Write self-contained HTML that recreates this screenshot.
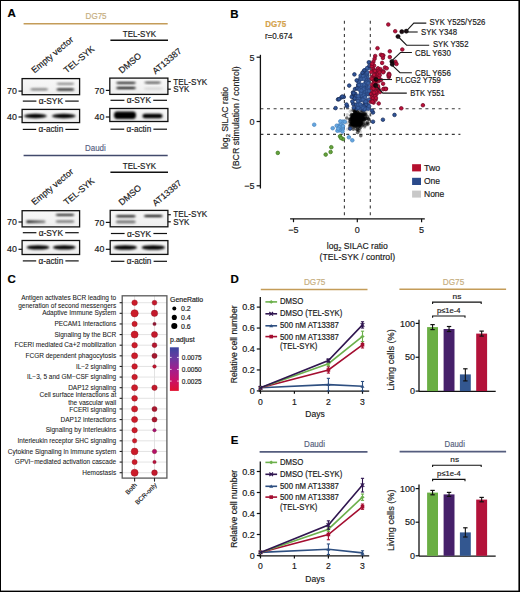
<!DOCTYPE html>
<html><head><meta charset="utf-8"><style>
html,body{margin:0;padding:0;background:#fff;overflow:hidden;}
svg{display:block;font-family:"Liberation Sans", sans-serif;}
text:not([stroke]){stroke:#1a1a1a;stroke-width:0.18px;}
</style></head><body>
<svg width="520" height="592" viewBox="0 0 520 592" font-family='"Liberation Sans", sans-serif'>
<defs>
<filter id="bl" x="-30%" y="-100%" width="160%" height="300%"><feGaussianBlur stdDeviation="0.9 0.8"/></filter>
<filter id="blob" x="-50%" y="-50%" width="200%" height="200%"><feGaussianBlur stdDeviation="1.2"/></filter>
<linearGradient id="blotbg" x1="0" y1="0" x2="0" y2="1"><stop offset="0" stop-color="#f8f8f8"/><stop offset="1" stop-color="#eeeeee"/></linearGradient>
<linearGradient id="pcol" x1="0" y1="0" x2="0" y2="1">
<stop offset="0" stop-color="#3b45a0"/><stop offset="0.25" stop-color="#6a3aa0"/><stop offset="0.5" stop-color="#a0208e"/><stop offset="0.75" stop-color="#c8126a"/><stop offset="1" stop-color="#e0102e"/></linearGradient>
</defs>
<rect x="0" y="0" width="520" height="592" fill="#000"/>
<rect x="1" y="1" width="517.4" height="589.6" fill="#fff"/>
<text x="7.6" y="17.3" font-size="11.5" fill="#000" stroke="#000" stroke-width="0.18" font-weight="bold">A</text>
<text x="230.3" y="17.8" font-size="11.5" fill="#000" stroke="#000" stroke-width="0.18" font-weight="bold">B</text>
<text x="7.6" y="283" font-size="11.5" fill="#000" stroke="#000" stroke-width="0.18" font-weight="bold">C</text>
<text x="230.6" y="282.7" font-size="11.5" fill="#000" stroke="#000" stroke-width="0.18" font-weight="bold">D</text>
<text x="230.8" y="444.4" font-size="11.5" fill="#000" stroke="#000" stroke-width="0.18" font-weight="bold">E</text>
<text x="85.6" y="19.1" font-size="8.8" fill="#c6ae80" stroke="#c6ae80" stroke-width="0.18" textLength="21" lengthAdjust="spacingAndGlyphs">DG75</text>
<line x1="23.6" y1="23.7" x2="167.7" y2="23.7" stroke="#c49c58" stroke-width="1.5"/>
<text x="122.8" y="36.6" font-size="8.8" fill="#1a1a1a" stroke="#1a1a1a" stroke-width="0.18" textLength="33.3" lengthAdjust="spacingAndGlyphs">TEL-SYK</text>
<line x1="110.4" y1="40.2" x2="168" y2="40.2" stroke="#111" stroke-width="1.4"/>
<text transform="translate(34.6,73.6) rotate(-40)" font-size="8.8" fill="#1a1a1a">Empty vector</text>
<text transform="translate(66.8,73.6) rotate(-40)" font-size="8.8" fill="#1a1a1a">TEL-SYK</text>
<text transform="translate(121.8,73.8) rotate(-40)" font-size="8.8" fill="#1a1a1a">DMSO</text>
<text transform="translate(155.4,74.6) rotate(-40)" font-size="8.8" fill="#1a1a1a">AT13387</text>
<rect x="22.1" y="78.6" width="57.5" height="16.1" fill="url(#blotbg)" stroke="#111" stroke-width="1.3"/>
<rect x="30.200000000000003" y="88.39999999999999" width="18" height="1.7999999999999998" rx="3" ry="0.8999999999999999" fill="#000" fill-opacity="0.62" filter="url(#bl)"/>
<rect x="56.400000000000006" y="88.4" width="18" height="2.0" rx="3" ry="1.0" fill="#000" fill-opacity="1.0" filter="url(#bl)"/>
<rect x="56.400000000000006" y="83.1" width="18" height="1.4" rx="3" ry="0.7" fill="#000" fill-opacity="0.62" filter="url(#bl)"/>
<text x="16.900000000000002" y="94.19999999999999" font-size="8.8" fill="#1a1a1a" stroke="#1a1a1a" stroke-width="0.18" text-anchor="end">70</text>
<line x1="18.5" y1="91.1" x2="22.1" y2="91.1" stroke="#111" stroke-width="1.2"/>
<text x="50.849999999999994" y="104.1" font-size="8.8" fill="#1a1a1a" stroke="#1a1a1a" stroke-width="0.18" text-anchor="middle" textLength="24.3" lengthAdjust="spacingAndGlyphs">α-SYK</text>
<line x1="22.8" y1="101.1" x2="36.4" y2="101.1" stroke="#111" stroke-width="1.2"/>
<line x1="65.19999999999999" y1="101.1" x2="78.69999999999999" y2="101.1" stroke="#111" stroke-width="1.2"/>
<rect x="22.1" y="109.4" width="57.5" height="13.2" fill="url(#blotbg)" stroke="#111" stroke-width="1.3"/>
<ellipse cx="35.4" cy="116.0" rx="11.5" ry="2.2" fill="#000" fill-opacity="1.0" filter="url(#bl)"/>
<ellipse cx="63.8" cy="116.0" rx="12.0" ry="2.2" fill="#000" fill-opacity="1.0" filter="url(#bl)"/>
<text x="16.900000000000002" y="120.1" font-size="8.8" fill="#1a1a1a" stroke="#1a1a1a" stroke-width="0.18" text-anchor="end">40</text>
<line x1="18.5" y1="117" x2="22.1" y2="117" stroke="#111" stroke-width="1.2"/>
<text x="50.849999999999994" y="132.4" font-size="8.8" fill="#1a1a1a" stroke="#1a1a1a" stroke-width="0.18" text-anchor="middle" textLength="24.7" lengthAdjust="spacingAndGlyphs">α-actin</text>
<line x1="22.8" y1="129.4" x2="36.199999999999996" y2="129.4" stroke="#111" stroke-width="1.2"/>
<line x1="65.39999999999999" y1="129.4" x2="78.69999999999999" y2="129.4" stroke="#111" stroke-width="1.2"/>
<rect x="109.8" y="78.1" width="58.1" height="16.3" fill="url(#blotbg)" stroke="#111" stroke-width="1.3"/>
<rect x="116.0" y="81.89999999999999" width="20" height="1.7999999999999998" rx="3" ry="0.8999999999999999" fill="#000" fill-opacity="1.0" filter="url(#bl)"/>
<rect x="116.0" y="87.1" width="20" height="1.7999999999999998" rx="3" ry="0.8999999999999999" fill="#000" fill-opacity="1.0" filter="url(#bl)"/>
<rect x="144.2" y="81.8" width="17" height="1.6" rx="3" ry="0.8" fill="#000" fill-opacity="0.8" filter="url(#bl)"/>
<rect x="144.0" y="87.39999999999999" width="19" height="2.4" rx="3" ry="1.2" fill="#000" fill-opacity="0.12" filter="url(#bl)"/>
<text x="104.3" y="93.5" font-size="8.8" fill="#1a1a1a" stroke="#1a1a1a" stroke-width="0.18" text-anchor="end">70</text>
<line x1="105.8" y1="90.4" x2="109.8" y2="90.4" stroke="#111" stroke-width="1.2"/>
<line x1="167.9" y1="81.5" x2="170.8" y2="81.5" stroke="#111" stroke-width="1.2"/>
<line x1="167.9" y1="89.2" x2="170.8" y2="89.2" stroke="#111" stroke-width="1.2"/>
<text x="173.3" y="84.5" font-size="8.8" fill="#1a1a1a" stroke="#1a1a1a" stroke-width="0.18" textLength="34" lengthAdjust="spacingAndGlyphs">TEL-SYK</text>
<text x="173.3" y="92.0" font-size="8.8" fill="#1a1a1a" stroke="#1a1a1a" stroke-width="0.18" textLength="16.1" lengthAdjust="spacingAndGlyphs">SYK</text>
<text x="138.85" y="103.3" font-size="8.8" fill="#1a1a1a" stroke="#1a1a1a" stroke-width="0.18" text-anchor="middle" textLength="24.3" lengthAdjust="spacingAndGlyphs">α-SYK</text>
<line x1="110.5" y1="100.3" x2="124.39999999999999" y2="100.3" stroke="#111" stroke-width="1.2"/>
<line x1="153.2" y1="100.3" x2="167.0" y2="100.3" stroke="#111" stroke-width="1.2"/>
<rect x="109.8" y="108.5" width="58.1" height="13.0" fill="url(#blotbg)" stroke="#111" stroke-width="1.3"/>
<rect x="114.0" y="111.5" width="22" height="7.4" rx="3" ry="3.7" fill="#000" fill-opacity="1.0" filter="url(#bl)"/>
<rect x="142.5" y="113.8" width="20" height="4.4" rx="3" ry="2.2" fill="#000" fill-opacity="1.0" filter="url(#bl)"/>
<text x="104.3" y="120.1" font-size="8.8" fill="#1a1a1a" stroke="#1a1a1a" stroke-width="0.18" text-anchor="end">40</text>
<line x1="105.8" y1="117" x2="109.8" y2="117" stroke="#111" stroke-width="1.2"/>
<text x="138.85" y="132.2" font-size="8.8" fill="#1a1a1a" stroke="#1a1a1a" stroke-width="0.18" text-anchor="middle" textLength="24.7" lengthAdjust="spacingAndGlyphs">α-actin</text>
<line x1="110.5" y1="129.2" x2="124.2" y2="129.2" stroke="#111" stroke-width="1.2"/>
<line x1="153.39999999999998" y1="129.2" x2="167.0" y2="129.2" stroke="#111" stroke-width="1.2"/>
<text x="85.0" y="150.6" font-size="8.8" fill="#585f84" stroke="#585f84" stroke-width="0.18" textLength="20.8" lengthAdjust="spacingAndGlyphs">Daudi</text>
<line x1="23.6" y1="155.5" x2="167.7" y2="155.5" stroke="#424a6c" stroke-width="1.5"/>
<text x="122.8" y="168.6" font-size="8.8" fill="#1a1a1a" stroke="#1a1a1a" stroke-width="0.18" textLength="33.3" lengthAdjust="spacingAndGlyphs">TEL-SYK</text>
<line x1="110.4" y1="172.2" x2="168" y2="172.2" stroke="#111" stroke-width="1.4"/>
<text transform="translate(34.6,205.6) rotate(-40)" font-size="8.8" fill="#1a1a1a">Empty vector</text>
<text transform="translate(66.8,205.6) rotate(-40)" font-size="8.8" fill="#1a1a1a">TEL-SYK</text>
<text transform="translate(121.8,205.8) rotate(-40)" font-size="8.8" fill="#1a1a1a">DMSO</text>
<text transform="translate(155.4,206.6) rotate(-40)" font-size="8.8" fill="#1a1a1a">AT13387</text>
<rect x="22.1" y="210.7" width="57.5" height="16.2" fill="url(#blotbg)" stroke="#111" stroke-width="1.3"/>
<linearGradient id="fade1" x1="0" y1="0" x2="1" y2="0"><stop offset="0" stop-color="#000" stop-opacity="0.95"/><stop offset="1" stop-color="#000" stop-opacity="0.45"/></linearGradient>
<rect x="26.3" y="220.6" width="19.2" height="2.4" rx="1.2" fill="url(#fade1)" filter="url(#bl)"/>
<rect x="55.5" y="220.60000000000002" width="19" height="1.7999999999999998" rx="3" ry="0.8999999999999999" fill="#000" fill-opacity="0.62" filter="url(#bl)"/>
<rect x="55.5" y="213.90000000000003" width="19" height="1.7999999999999998" rx="3" ry="0.8999999999999999" fill="#000" fill-opacity="1.0" filter="url(#bl)"/>
<text x="16.900000000000002" y="225.1" font-size="8.8" fill="#1a1a1a" stroke="#1a1a1a" stroke-width="0.18" text-anchor="end">70</text>
<line x1="18.5" y1="222.0" x2="22.1" y2="222.0" stroke="#111" stroke-width="1.2"/>
<text x="50.849999999999994" y="235.7" font-size="8.8" fill="#1a1a1a" stroke="#1a1a1a" stroke-width="0.18" text-anchor="middle" textLength="24.3" lengthAdjust="spacingAndGlyphs">α-SYK</text>
<line x1="22.8" y1="232.7" x2="36.4" y2="232.7" stroke="#111" stroke-width="1.2"/>
<line x1="65.19999999999999" y1="232.7" x2="78.69999999999999" y2="232.7" stroke="#111" stroke-width="1.2"/>
<rect x="22.1" y="240.5" width="57.5" height="14.0" fill="url(#blotbg)" stroke="#111" stroke-width="1.3"/>
<ellipse cx="38.0" cy="247.4" rx="11.5" ry="2.2" fill="#000" fill-opacity="1.0" filter="url(#bl)"/>
<ellipse cx="64.3" cy="247.4" rx="11.5" ry="2.2" fill="#000" fill-opacity="1.0" filter="url(#bl)"/>
<text x="16.900000000000002" y="252.4" font-size="8.8" fill="#1a1a1a" stroke="#1a1a1a" stroke-width="0.18" text-anchor="end">40</text>
<line x1="18.5" y1="249.3" x2="22.1" y2="249.3" stroke="#111" stroke-width="1.2"/>
<text x="50.849999999999994" y="263.9" font-size="8.8" fill="#1a1a1a" stroke="#1a1a1a" stroke-width="0.18" text-anchor="middle" textLength="24.7" lengthAdjust="spacingAndGlyphs">α-actin</text>
<line x1="22.8" y1="260.9" x2="36.199999999999996" y2="260.9" stroke="#111" stroke-width="1.2"/>
<line x1="65.39999999999999" y1="260.9" x2="78.69999999999999" y2="260.9" stroke="#111" stroke-width="1.2"/>
<rect x="110.2" y="210.4" width="57.7" height="16.4" fill="url(#blotbg)" stroke="#111" stroke-width="1.3"/>
<rect x="115.8" y="215.3" width="20" height="2.0" rx="3" ry="1.0" fill="#000" fill-opacity="1.0" filter="url(#bl)"/>
<rect x="115.8" y="220.60000000000002" width="20" height="2.6" rx="3" ry="1.3" fill="#000" fill-opacity="0.55" filter="url(#bl)"/>
<rect x="143.8" y="215.1" width="19" height="2.0" rx="3" ry="1.0" fill="#000" fill-opacity="1.0" filter="url(#bl)"/>
<text x="104.3" y="225.5" font-size="8.8" fill="#1a1a1a" stroke="#1a1a1a" stroke-width="0.18" text-anchor="end">70</text>
<line x1="105.8" y1="222.4" x2="110.2" y2="222.4" stroke="#111" stroke-width="1.2"/>
<line x1="167.9" y1="214.7" x2="170.8" y2="214.7" stroke="#111" stroke-width="1.2"/>
<line x1="167.9" y1="221.8" x2="170.8" y2="221.8" stroke="#111" stroke-width="1.2"/>
<text x="173.3" y="217.1" font-size="8.8" fill="#1a1a1a" stroke="#1a1a1a" stroke-width="0.18" textLength="34" lengthAdjust="spacingAndGlyphs">TEL-SYK</text>
<text x="173.3" y="224.5" font-size="8.8" fill="#1a1a1a" stroke="#1a1a1a" stroke-width="0.18" textLength="16.1" lengthAdjust="spacingAndGlyphs">SYK</text>
<text x="139.05" y="236.5" font-size="8.8" fill="#1a1a1a" stroke="#1a1a1a" stroke-width="0.18" text-anchor="middle" textLength="24.3" lengthAdjust="spacingAndGlyphs">α-SYK</text>
<line x1="110.9" y1="233.5" x2="124.60000000000001" y2="233.5" stroke="#111" stroke-width="1.2"/>
<line x1="153.4" y1="233.5" x2="167.0" y2="233.5" stroke="#111" stroke-width="1.2"/>
<rect x="110.2" y="240.6" width="57.7" height="13.8" fill="url(#blotbg)" stroke="#111" stroke-width="1.3"/>
<ellipse cx="125.3" cy="247.5" rx="11.75" ry="2.3" fill="#000" fill-opacity="1.0" filter="url(#bl)"/>
<ellipse cx="153.3" cy="247.5" rx="11.75" ry="2.3" fill="#000" fill-opacity="1.0" filter="url(#bl)"/>
<text x="104.3" y="252.4" font-size="8.8" fill="#1a1a1a" stroke="#1a1a1a" stroke-width="0.18" text-anchor="end">40</text>
<line x1="105.8" y1="249.3" x2="110.2" y2="249.3" stroke="#111" stroke-width="1.2"/>
<text x="139.05" y="264.3" font-size="8.8" fill="#1a1a1a" stroke="#1a1a1a" stroke-width="0.18" text-anchor="middle" textLength="24.7" lengthAdjust="spacingAndGlyphs">α-actin</text>
<line x1="110.9" y1="261.3" x2="124.40000000000002" y2="261.3" stroke="#111" stroke-width="1.2"/>
<line x1="153.6" y1="261.3" x2="167.0" y2="261.3" stroke="#111" stroke-width="1.2"/>
<text x="265.3" y="26.8" font-size="8.8" fill="#d4a24c" stroke="#d4a24c" stroke-width="0.18" font-weight="bold" textLength="20.8" lengthAdjust="spacingAndGlyphs">DG75</text>
<text x="264.9" y="38.8" font-size="8.8" fill="#1a1a1a" stroke="#1a1a1a" stroke-width="0.18" textLength="27.6" lengthAdjust="spacingAndGlyphs">r=0.674</text>
<line x1="260.4" y1="108.7" x2="460.4" y2="108.7" stroke="#3a3a3a" stroke-width="1.1" stroke-dasharray="3 3.6"/>
<line x1="260.4" y1="134.4" x2="460.4" y2="134.4" stroke="#3a3a3a" stroke-width="1.1" stroke-dasharray="3 3.6"/>
<line x1="344.4" y1="20.8" x2="344.4" y2="218.8" stroke="#3a3a3a" stroke-width="1.1" stroke-dasharray="3 3.6"/>
<line x1="370.3" y1="20.8" x2="370.3" y2="218.8" stroke="#3a3a3a" stroke-width="1.1" stroke-dasharray="3 3.6"/>
<line x1="260.4" y1="54.8" x2="260.4" y2="188.5" stroke="#111" stroke-width="1.3"/>
<line x1="256.6" y1="57.2" x2="260.4" y2="57.2" stroke="#111" stroke-width="1.2"/>
<line x1="256.6" y1="121.5" x2="260.4" y2="121.5" stroke="#111" stroke-width="1.2"/>
<line x1="256.6" y1="185.8" x2="260.4" y2="185.8" stroke="#111" stroke-width="1.2"/>
<text x="254.6" y="60.5" font-size="9" fill="#1a1a1a" stroke="#1a1a1a" stroke-width="0.18" text-anchor="end">5</text>
<text x="254.6" y="124.7" font-size="9" fill="#1a1a1a" stroke="#1a1a1a" stroke-width="0.18" text-anchor="end">0</text>
<text x="254.6" y="189.0" font-size="9" fill="#1a1a1a" stroke="#1a1a1a" stroke-width="0.18" text-anchor="end">−5</text>
<line x1="290.1" y1="218.8" x2="424.8" y2="218.8" stroke="#111" stroke-width="1.3"/>
<line x1="293.5" y1="218.8" x2="293.5" y2="222.2" stroke="#111" stroke-width="1.2"/>
<line x1="357.3" y1="218.8" x2="357.3" y2="222.2" stroke="#111" stroke-width="1.2"/>
<line x1="421.6" y1="218.8" x2="421.6" y2="222.2" stroke="#111" stroke-width="1.2"/>
<text x="293.3" y="232.7" font-size="9" fill="#1a1a1a" stroke="#1a1a1a" stroke-width="0.18" text-anchor="middle">−5</text>
<text x="357.3" y="232.7" font-size="9" fill="#1a1a1a" stroke="#1a1a1a" stroke-width="0.18" text-anchor="middle">0</text>
<text x="421.6" y="232.7" font-size="9" fill="#1a1a1a" stroke="#1a1a1a" stroke-width="0.18" text-anchor="middle">5</text>
<text x="357.3" y="248.7" font-size="9.2" fill="#1a1a1a" text-anchor="middle" textLength="61" lengthAdjust="spacingAndGlyphs">log<tspan font-size="6" dy="1.8">2</tspan><tspan dy="-1.8"> SILAC ratio</tspan></text>
<text x="357.3" y="260.2" font-size="9.2" fill="#1a1a1a" stroke="#1a1a1a" stroke-width="0.18" text-anchor="middle" textLength="75.5" lengthAdjust="spacingAndGlyphs">(TEL-SYK / control)</text>
<text transform="translate(228.3,118) rotate(-90)" font-size="9.2" fill="#1a1a1a" text-anchor="middle" textLength="62" lengthAdjust="spacingAndGlyphs">log<tspan font-size="6" dy="1.8">2</tspan><tspan dy="-1.8"> SILAC ratio</tspan></text>
<text transform="translate(238.7,117.8) rotate(-90)" font-size="9.2" fill="#1a1a1a" text-anchor="middle" textLength="103" lengthAdjust="spacingAndGlyphs">(BCR stimulation / control)</text>
<circle cx="345.64" cy="122.93" r="1.8" fill="#3a3a3a" stroke="none" stroke-width="0" fill-opacity="0.2"/>
<circle cx="352.60" cy="120.48" r="1.8" fill="#3a3a3a" stroke="none" stroke-width="0" fill-opacity="0.2"/>
<circle cx="354.16" cy="119.35" r="1.8" fill="#3a3a3a" stroke="none" stroke-width="0" fill-opacity="0.2"/>
<circle cx="355.38" cy="119.36" r="1.8" fill="#3a3a3a" stroke="none" stroke-width="0" fill-opacity="0.2"/>
<circle cx="356.83" cy="119.02" r="1.8" fill="#3a3a3a" stroke="none" stroke-width="0" fill-opacity="0.2"/>
<circle cx="356.49" cy="121.73" r="1.8" fill="#3a3a3a" stroke="none" stroke-width="0" fill-opacity="0.2"/>
<circle cx="360.04" cy="121.17" r="1.8" fill="#3a3a3a" stroke="none" stroke-width="0" fill-opacity="0.2"/>
<circle cx="365.28" cy="121.55" r="1.8" fill="#3a3a3a" stroke="none" stroke-width="0" fill-opacity="0.2"/>
<circle cx="365.46" cy="118.63" r="1.8" fill="#3a3a3a" stroke="none" stroke-width="0" fill-opacity="0.2"/>
<circle cx="355.92" cy="118.33" r="1.8" fill="#3a3a3a" stroke="none" stroke-width="0" fill-opacity="0.2"/>
<circle cx="361.17" cy="125.11" r="1.8" fill="#3a3a3a" stroke="none" stroke-width="0" fill-opacity="0.2"/>
<circle cx="357.92" cy="119.73" r="1.8" fill="#3a3a3a" stroke="none" stroke-width="0" fill-opacity="0.2"/>
<circle cx="357.33" cy="119.56" r="1.8" fill="#3a3a3a" stroke="none" stroke-width="0" fill-opacity="0.2"/>
<circle cx="355.91" cy="119.81" r="1.8" fill="#3a3a3a" stroke="none" stroke-width="0" fill-opacity="0.2"/>
<circle cx="353.73" cy="120.83" r="1.8" fill="#3a3a3a" stroke="none" stroke-width="0" fill-opacity="0.2"/>
<circle cx="353.58" cy="115.21" r="1.8" fill="#3a3a3a" stroke="none" stroke-width="0" fill-opacity="0.2"/>
<circle cx="353.96" cy="119.50" r="1.8" fill="#3a3a3a" stroke="none" stroke-width="0" fill-opacity="0.2"/>
<circle cx="356.34" cy="124.60" r="1.8" fill="#3a3a3a" stroke="none" stroke-width="0" fill-opacity="0.2"/>
<circle cx="368.35" cy="119.34" r="1.8" fill="#3a3a3a" stroke="none" stroke-width="0" fill-opacity="0.2"/>
<circle cx="357.22" cy="119.22" r="1.8" fill="#3a3a3a" stroke="none" stroke-width="0" fill-opacity="0.2"/>
<circle cx="357.06" cy="120.03" r="1.8" fill="#3a3a3a" stroke="none" stroke-width="0" fill-opacity="0.2"/>
<circle cx="361.58" cy="121.42" r="1.8" fill="#3a3a3a" stroke="none" stroke-width="0" fill-opacity="0.2"/>
<circle cx="358.23" cy="110.91" r="1.8" fill="#3a3a3a" stroke="none" stroke-width="0" fill-opacity="0.2"/>
<circle cx="352.35" cy="123.58" r="1.8" fill="#3a3a3a" stroke="none" stroke-width="0" fill-opacity="0.2"/>
<circle cx="357.41" cy="119.47" r="1.8" fill="#3a3a3a" stroke="none" stroke-width="0" fill-opacity="0.2"/>
<circle cx="357.34" cy="119.64" r="1.8" fill="#3a3a3a" stroke="none" stroke-width="0" fill-opacity="0.2"/>
<circle cx="370.74" cy="111.41" r="1.8" fill="#3a3a3a" stroke="none" stroke-width="0" fill-opacity="0.2"/>
<circle cx="354.87" cy="121.24" r="1.8" fill="#3a3a3a" stroke="none" stroke-width="0" fill-opacity="0.2"/>
<circle cx="363.48" cy="122.41" r="1.8" fill="#3a3a3a" stroke="none" stroke-width="0" fill-opacity="0.2"/>
<circle cx="356.40" cy="126.39" r="1.8" fill="#3a3a3a" stroke="none" stroke-width="0" fill-opacity="0.2"/>
<circle cx="363.61" cy="123.16" r="1.8" fill="#3a3a3a" stroke="none" stroke-width="0" fill-opacity="0.2"/>
<circle cx="357.95" cy="107.20" r="1.8" fill="#3a3a3a" stroke="none" stroke-width="0" fill-opacity="0.2"/>
<circle cx="357.34" cy="119.54" r="1.8" fill="#3a3a3a" stroke="none" stroke-width="0" fill-opacity="0.2"/>
<circle cx="359.78" cy="120.43" r="1.8" fill="#3a3a3a" stroke="none" stroke-width="0" fill-opacity="0.2"/>
<circle cx="358.24" cy="116.54" r="1.8" fill="#3a3a3a" stroke="none" stroke-width="0" fill-opacity="0.2"/>
<circle cx="351.02" cy="121.55" r="1.8" fill="#3a3a3a" stroke="none" stroke-width="0" fill-opacity="0.2"/>
<circle cx="357.43" cy="119.81" r="1.8" fill="#3a3a3a" stroke="none" stroke-width="0" fill-opacity="0.2"/>
<circle cx="355.42" cy="117.23" r="1.8" fill="#3a3a3a" stroke="none" stroke-width="0" fill-opacity="0.2"/>
<circle cx="359.91" cy="121.73" r="1.8" fill="#3a3a3a" stroke="none" stroke-width="0" fill-opacity="0.2"/>
<circle cx="357.06" cy="121.30" r="1.8" fill="#3a3a3a" stroke="none" stroke-width="0" fill-opacity="0.2"/>
<circle cx="358.89" cy="119.22" r="1.8" fill="#3a3a3a" stroke="none" stroke-width="0" fill-opacity="0.2"/>
<circle cx="360.78" cy="116.57" r="1.8" fill="#3a3a3a" stroke="none" stroke-width="0" fill-opacity="0.2"/>
<circle cx="359.48" cy="127.74" r="1.8" fill="#3a3a3a" stroke="none" stroke-width="0" fill-opacity="0.2"/>
<circle cx="352.91" cy="114.32" r="1.8" fill="#3a3a3a" stroke="none" stroke-width="0" fill-opacity="0.2"/>
<circle cx="360.52" cy="121.74" r="1.8" fill="#3a3a3a" stroke="none" stroke-width="0" fill-opacity="0.2"/>
<circle cx="357.29" cy="119.76" r="1.8" fill="#3a3a3a" stroke="none" stroke-width="0" fill-opacity="0.2"/>
<circle cx="357.63" cy="117.33" r="1.8" fill="#3a3a3a" stroke="none" stroke-width="0" fill-opacity="0.2"/>
<circle cx="361.11" cy="121.30" r="1.8" fill="#3a3a3a" stroke="none" stroke-width="0" fill-opacity="0.2"/>
<circle cx="360.46" cy="121.41" r="1.8" fill="#3a3a3a" stroke="none" stroke-width="0" fill-opacity="0.2"/>
<circle cx="355.58" cy="118.29" r="1.8" fill="#3a3a3a" stroke="none" stroke-width="0" fill-opacity="0.2"/>
<circle cx="347.62" cy="129.11" r="1.8" fill="#3a3a3a" stroke="none" stroke-width="0" fill-opacity="0.2"/>
<circle cx="353.09" cy="119.91" r="1.8" fill="#3a3a3a" stroke="none" stroke-width="0" fill-opacity="0.2"/>
<circle cx="355.11" cy="118.44" r="1.8" fill="#3a3a3a" stroke="none" stroke-width="0" fill-opacity="0.2"/>
<circle cx="358.85" cy="121.64" r="1.8" fill="#3a3a3a" stroke="none" stroke-width="0" fill-opacity="0.2"/>
<circle cx="358.82" cy="118.56" r="1.8" fill="#3a3a3a" stroke="none" stroke-width="0" fill-opacity="0.2"/>
<circle cx="358.77" cy="123.03" r="1.8" fill="#3a3a3a" stroke="none" stroke-width="0" fill-opacity="0.2"/>
<circle cx="357.06" cy="116.12" r="1.8" fill="#3a3a3a" stroke="none" stroke-width="0" fill-opacity="0.2"/>
<circle cx="358.63" cy="119.09" r="1.8" fill="#3a3a3a" stroke="none" stroke-width="0" fill-opacity="0.2"/>
<circle cx="360.85" cy="116.41" r="1.8" fill="#3a3a3a" stroke="none" stroke-width="0" fill-opacity="0.2"/>
<circle cx="360.21" cy="121.62" r="1.8" fill="#3a3a3a" stroke="none" stroke-width="0" fill-opacity="0.2"/>
<circle cx="361.32" cy="120.45" r="1.8" fill="#3a3a3a" stroke="none" stroke-width="0" fill-opacity="0.2"/>
<circle cx="357.02" cy="118.60" r="1.8" fill="#3a3a3a" stroke="none" stroke-width="0" fill-opacity="0.2"/>
<circle cx="357.15" cy="122.81" r="1.8" fill="#3a3a3a" stroke="none" stroke-width="0" fill-opacity="0.2"/>
<circle cx="355.42" cy="125.88" r="1.8" fill="#3a3a3a" stroke="none" stroke-width="0" fill-opacity="0.2"/>
<circle cx="357.48" cy="119.84" r="1.8" fill="#3a3a3a" stroke="none" stroke-width="0" fill-opacity="0.2"/>
<circle cx="357.59" cy="121.52" r="1.8" fill="#3a3a3a" stroke="none" stroke-width="0" fill-opacity="0.2"/>
<circle cx="352.85" cy="117.84" r="1.8" fill="#3a3a3a" stroke="none" stroke-width="0" fill-opacity="0.2"/>
<circle cx="356.10" cy="125.46" r="1.8" fill="#3a3a3a" stroke="none" stroke-width="0" fill-opacity="0.2"/>
<circle cx="357.56" cy="119.36" r="1.8" fill="#3a3a3a" stroke="none" stroke-width="0" fill-opacity="0.2"/>
<circle cx="357.18" cy="120.46" r="1.8" fill="#3a3a3a" stroke="none" stroke-width="0" fill-opacity="0.2"/>
<circle cx="354.15" cy="120.56" r="1.8" fill="#3a3a3a" stroke="none" stroke-width="0" fill-opacity="0.2"/>
<circle cx="356.39" cy="120.43" r="1.8" fill="#3a3a3a" stroke="none" stroke-width="0" fill-opacity="0.2"/>
<circle cx="353.97" cy="117.95" r="1.8" fill="#3a3a3a" stroke="none" stroke-width="0" fill-opacity="0.2"/>
<circle cx="360.42" cy="117.07" r="1.8" fill="#3a3a3a" stroke="none" stroke-width="0" fill-opacity="0.2"/>
<circle cx="362.15" cy="118.93" r="1.8" fill="#3a3a3a" stroke="none" stroke-width="0" fill-opacity="0.2"/>
<circle cx="350.93" cy="115.94" r="1.8" fill="#3a3a3a" stroke="none" stroke-width="0" fill-opacity="0.2"/>
<circle cx="357.98" cy="120.29" r="1.8" fill="#3a3a3a" stroke="none" stroke-width="0" fill-opacity="0.2"/>
<circle cx="357.50" cy="119.38" r="1.8" fill="#3a3a3a" stroke="none" stroke-width="0" fill-opacity="0.2"/>
<circle cx="356.95" cy="118.44" r="1.8" fill="#3a3a3a" stroke="none" stroke-width="0" fill-opacity="0.2"/>
<circle cx="357.12" cy="119.30" r="1.8" fill="#3a3a3a" stroke="none" stroke-width="0" fill-opacity="0.2"/>
<circle cx="356.69" cy="119.57" r="1.8" fill="#3a3a3a" stroke="none" stroke-width="0" fill-opacity="0.2"/>
<circle cx="362.32" cy="119.48" r="1.8" fill="#3a3a3a" stroke="none" stroke-width="0" fill-opacity="0.2"/>
<circle cx="365.35" cy="123.42" r="1.8" fill="#3a3a3a" stroke="none" stroke-width="0" fill-opacity="0.2"/>
<circle cx="359.48" cy="117.99" r="1.8" fill="#3a3a3a" stroke="none" stroke-width="0" fill-opacity="0.2"/>
<circle cx="357.06" cy="116.71" r="1.8" fill="#3a3a3a" stroke="none" stroke-width="0" fill-opacity="0.2"/>
<circle cx="365.76" cy="114.74" r="1.8" fill="#3a3a3a" stroke="none" stroke-width="0" fill-opacity="0.2"/>
<circle cx="354.36" cy="123.26" r="1.8" fill="#3a3a3a" stroke="none" stroke-width="0" fill-opacity="0.2"/>
<circle cx="365.16" cy="111.64" r="1.8" fill="#3a3a3a" stroke="none" stroke-width="0" fill-opacity="0.2"/>
<circle cx="354.78" cy="120.88" r="1.8" fill="#3a3a3a" stroke="none" stroke-width="0" fill-opacity="0.2"/>
<circle cx="347.29" cy="114.81" r="1.8" fill="#3a3a3a" stroke="none" stroke-width="0" fill-opacity="0.2"/>
<circle cx="353.31" cy="115.70" r="1.8" fill="#3a3a3a" stroke="none" stroke-width="0" fill-opacity="0.2"/>
<circle cx="353.31" cy="116.40" r="1.8" fill="#3a3a3a" stroke="none" stroke-width="0" fill-opacity="0.2"/>
<circle cx="367.55" cy="124.88" r="1.8" fill="#3a3a3a" stroke="none" stroke-width="0" fill-opacity="0.2"/>
<circle cx="367.52" cy="110.33" r="1.8" fill="#3a3a3a" stroke="none" stroke-width="0" fill-opacity="0.2"/>
<circle cx="356.32" cy="112.71" r="1.8" fill="#3a3a3a" stroke="none" stroke-width="0" fill-opacity="0.2"/>
<circle cx="352.00" cy="116.68" r="1.8" fill="#3a3a3a" stroke="none" stroke-width="0" fill-opacity="0.2"/>
<circle cx="356.11" cy="119.94" r="1.8" fill="#3a3a3a" stroke="none" stroke-width="0" fill-opacity="0.2"/>
<circle cx="357.30" cy="117.54" r="1.8" fill="#3a3a3a" stroke="none" stroke-width="0" fill-opacity="0.2"/>
<circle cx="362.53" cy="120.44" r="1.8" fill="#3a3a3a" stroke="none" stroke-width="0" fill-opacity="0.2"/>
<circle cx="357.79" cy="123.21" r="1.8" fill="#3a3a3a" stroke="none" stroke-width="0" fill-opacity="0.2"/>
<circle cx="354.76" cy="112.30" r="1.8" fill="#3a3a3a" stroke="none" stroke-width="0" fill-opacity="0.2"/>
<circle cx="357.42" cy="119.44" r="1.8" fill="#3a3a3a" stroke="none" stroke-width="0" fill-opacity="0.2"/>
<circle cx="357.12" cy="124.14" r="1.8" fill="#3a3a3a" stroke="none" stroke-width="0" fill-opacity="0.2"/>
<circle cx="357.15" cy="119.20" r="1.8" fill="#3a3a3a" stroke="none" stroke-width="0" fill-opacity="0.2"/>
<circle cx="359.08" cy="125.03" r="1.8" fill="#3a3a3a" stroke="none" stroke-width="0" fill-opacity="0.2"/>
<circle cx="351.41" cy="110.67" r="1.8" fill="#3a3a3a" stroke="none" stroke-width="0" fill-opacity="0.2"/>
<circle cx="353.57" cy="120.86" r="1.8" fill="#3a3a3a" stroke="none" stroke-width="0" fill-opacity="0.2"/>
<circle cx="355.67" cy="116.84" r="1.8" fill="#3a3a3a" stroke="none" stroke-width="0" fill-opacity="0.2"/>
<circle cx="360.32" cy="128.07" r="1.8" fill="#3a3a3a" stroke="none" stroke-width="0" fill-opacity="0.2"/>
<circle cx="361.08" cy="117.35" r="1.8" fill="#3a3a3a" stroke="none" stroke-width="0" fill-opacity="0.2"/>
<circle cx="361.47" cy="115.78" r="1.8" fill="#3a3a3a" stroke="none" stroke-width="0" fill-opacity="0.2"/>
<circle cx="355.24" cy="123.92" r="1.8" fill="#3a3a3a" stroke="none" stroke-width="0" fill-opacity="0.2"/>
<circle cx="364.51" cy="127.41" r="1.8" fill="#3a3a3a" stroke="none" stroke-width="0" fill-opacity="0.2"/>
<circle cx="357.44" cy="119.31" r="1.8" fill="#3a3a3a" stroke="none" stroke-width="0" fill-opacity="0.2"/>
<circle cx="356.23" cy="115.41" r="1.8" fill="#3a3a3a" stroke="none" stroke-width="0" fill-opacity="0.2"/>
<circle cx="358.00" cy="120.70" r="1.8" fill="#3a3a3a" stroke="none" stroke-width="0" fill-opacity="0.2"/>
<circle cx="356.70" cy="119.68" r="1.8" fill="#3a3a3a" stroke="none" stroke-width="0" fill-opacity="0.2"/>
<circle cx="353.91" cy="121.44" r="1.8" fill="#3a3a3a" stroke="none" stroke-width="0" fill-opacity="0.2"/>
<circle cx="353.76" cy="116.10" r="1.8" fill="#3a3a3a" stroke="none" stroke-width="0" fill-opacity="0.2"/>
<circle cx="357.40" cy="119.34" r="1.8" fill="#3a3a3a" stroke="none" stroke-width="0" fill-opacity="0.2"/>
<circle cx="359.46" cy="119.27" r="1.8" fill="#3a3a3a" stroke="none" stroke-width="0" fill-opacity="0.2"/>
<circle cx="357.96" cy="119.63" r="1.8" fill="#3a3a3a" stroke="none" stroke-width="0" fill-opacity="0.2"/>
<circle cx="363.41" cy="113.52" r="1.8" fill="#3a3a3a" stroke="none" stroke-width="0" fill-opacity="0.2"/>
<circle cx="355.19" cy="118.54" r="1.8" fill="#3a3a3a" stroke="none" stroke-width="0" fill-opacity="0.2"/>
<circle cx="357.19" cy="119.76" r="1.8" fill="#3a3a3a" stroke="none" stroke-width="0" fill-opacity="0.2"/>
<circle cx="358.02" cy="120.29" r="1.8" fill="#3a3a3a" stroke="none" stroke-width="0" fill-opacity="0.2"/>
<circle cx="346.99" cy="122.36" r="1.8" fill="#3a3a3a" stroke="none" stroke-width="0" fill-opacity="0.2"/>
<circle cx="357.43" cy="121.10" r="1.8" fill="#3a3a3a" stroke="none" stroke-width="0" fill-opacity="0.2"/>
<circle cx="362.23" cy="125.24" r="1.8" fill="#3a3a3a" stroke="none" stroke-width="0" fill-opacity="0.2"/>
<circle cx="355.07" cy="120.24" r="1.8" fill="#3a3a3a" stroke="none" stroke-width="0" fill-opacity="0.2"/>
<circle cx="353.27" cy="115.41" r="1.8" fill="#3a3a3a" stroke="none" stroke-width="0" fill-opacity="0.2"/>
<circle cx="365.68" cy="117.37" r="1.8" fill="#3a3a3a" stroke="none" stroke-width="0" fill-opacity="0.2"/>
<circle cx="356.48" cy="117.71" r="1.8" fill="#3a3a3a" stroke="none" stroke-width="0" fill-opacity="0.2"/>
<circle cx="360.00" cy="124.85" r="1.8" fill="#3a3a3a" stroke="none" stroke-width="0" fill-opacity="0.2"/>
<circle cx="366.28" cy="120.08" r="1.8" fill="#3a3a3a" stroke="none" stroke-width="0" fill-opacity="0.2"/>
<circle cx="357.98" cy="120.87" r="1.8" fill="#3a3a3a" stroke="none" stroke-width="0" fill-opacity="0.2"/>
<circle cx="356.59" cy="124.26" r="1.8" fill="#3a3a3a" stroke="none" stroke-width="0" fill-opacity="0.2"/>
<circle cx="350.00" cy="118.60" r="1.8" fill="#3a3a3a" stroke="none" stroke-width="0" fill-opacity="0.2"/>
<circle cx="357.13" cy="119.36" r="1.8" fill="#3a3a3a" stroke="none" stroke-width="0" fill-opacity="0.2"/>
<circle cx="358.80" cy="114.19" r="1.8" fill="#3a3a3a" stroke="none" stroke-width="0" fill-opacity="0.2"/>
<circle cx="366.82" cy="113.44" r="1.8" fill="#3a3a3a" stroke="none" stroke-width="0" fill-opacity="0.2"/>
<circle cx="356.09" cy="112.95" r="1.8" fill="#3a3a3a" stroke="none" stroke-width="0" fill-opacity="0.2"/>
<circle cx="362.61" cy="124.88" r="1.8" fill="#3a3a3a" stroke="none" stroke-width="0" fill-opacity="0.2"/>
<circle cx="359.27" cy="118.31" r="1.8" fill="#3a3a3a" stroke="none" stroke-width="0" fill-opacity="0.2"/>
<circle cx="349.59" cy="126.68" r="1.8" fill="#3a3a3a" stroke="none" stroke-width="0" fill-opacity="0.2"/>
<circle cx="358.74" cy="114.96" r="1.8" fill="#3a3a3a" stroke="none" stroke-width="0" fill-opacity="0.2"/>
<circle cx="364.97" cy="116.83" r="1.8" fill="#3a3a3a" stroke="none" stroke-width="0" fill-opacity="0.2"/>
<circle cx="357.83" cy="121.23" r="1.8" fill="#3a3a3a" stroke="none" stroke-width="0" fill-opacity="0.2"/>
<circle cx="356.70" cy="116.27" r="1.8" fill="#3a3a3a" stroke="none" stroke-width="0" fill-opacity="0.2"/>
<circle cx="355.78" cy="112.48" r="1.8" fill="#3a3a3a" stroke="none" stroke-width="0" fill-opacity="0.2"/>
<circle cx="360.30" cy="131.65" r="1.8" fill="#3a3a3a" stroke="none" stroke-width="0" fill-opacity="0.2"/>
<circle cx="366.73" cy="118.21" r="1.8" fill="#3a3a3a" stroke="none" stroke-width="0" fill-opacity="0.2"/>
<circle cx="356.05" cy="119.22" r="1.8" fill="#3a3a3a" stroke="none" stroke-width="0" fill-opacity="0.2"/>
<circle cx="361.45" cy="116.99" r="1.8" fill="#3a3a3a" stroke="none" stroke-width="0" fill-opacity="0.2"/>
<circle cx="358.16" cy="118.46" r="1.8" fill="#3a3a3a" stroke="none" stroke-width="0" fill-opacity="0.2"/>
<circle cx="355.48" cy="120.18" r="1.8" fill="#3a3a3a" stroke="none" stroke-width="0" fill-opacity="0.2"/>
<circle cx="356.57" cy="119.27" r="1.8" fill="#3a3a3a" stroke="none" stroke-width="0" fill-opacity="0.2"/>
<circle cx="363.83" cy="120.62" r="1.8" fill="#3a3a3a" stroke="none" stroke-width="0" fill-opacity="0.2"/>
<circle cx="360.76" cy="111.04" r="1.8" fill="#3a3a3a" stroke="none" stroke-width="0" fill-opacity="0.2"/>
<circle cx="359.19" cy="122.92" r="1.8" fill="#3a3a3a" stroke="none" stroke-width="0" fill-opacity="0.2"/>
<circle cx="356.92" cy="120.11" r="1.8" fill="#3a3a3a" stroke="none" stroke-width="0" fill-opacity="0.2"/>
<circle cx="359.14" cy="121.86" r="1.8" fill="#3a3a3a" stroke="none" stroke-width="0" fill-opacity="0.2"/>
<circle cx="355.48" cy="119.32" r="1.8" fill="#3a3a3a" stroke="none" stroke-width="0" fill-opacity="0.2"/>
<circle cx="353.25" cy="109.86" r="1.8" fill="#3a3a3a" stroke="none" stroke-width="0" fill-opacity="0.2"/>
<circle cx="370.57" cy="115.02" r="1.8" fill="#3a3a3a" stroke="none" stroke-width="0" fill-opacity="0.2"/>
<circle cx="357.86" cy="119.82" r="1.8" fill="#3a3a3a" stroke="none" stroke-width="0" fill-opacity="0.2"/>
<circle cx="358.14" cy="123.92" r="1.8" fill="#3a3a3a" stroke="none" stroke-width="0" fill-opacity="0.2"/>
<circle cx="357.19" cy="118.75" r="1.8" fill="#3a3a3a" stroke="none" stroke-width="0" fill-opacity="0.2"/>
<circle cx="350.22" cy="111.47" r="1.8" fill="#3a3a3a" stroke="none" stroke-width="0" fill-opacity="0.2"/>
<circle cx="355.82" cy="118.94" r="1.8" fill="#3a3a3a" stroke="none" stroke-width="0" fill-opacity="0.2"/>
<ellipse cx="357.5" cy="119.8" rx="6.6" ry="7.2" fill="#000" filter="url(#blob)"/>
<ellipse cx="353.5" cy="123.8" rx="4" ry="4.5" fill="#000" filter="url(#blob)"/>
<ellipse cx="361.5" cy="115.5" rx="4.5" ry="3.5" fill="#000" filter="url(#blob)"/>
<circle cx="355.80" cy="123.77" r="1.8" fill="#000" stroke="none" stroke-width="0" fill-opacity="0.55"/>
<circle cx="363.07" cy="111.44" r="1.8" fill="#000" stroke="none" stroke-width="0" fill-opacity="0.55"/>
<circle cx="359.83" cy="128.27" r="1.8" fill="#000" stroke="none" stroke-width="0" fill-opacity="0.55"/>
<circle cx="363.00" cy="118.50" r="1.8" fill="#000" stroke="none" stroke-width="0" fill-opacity="0.55"/>
<circle cx="354.74" cy="118.24" r="1.8" fill="#000" stroke="none" stroke-width="0" fill-opacity="0.55"/>
<circle cx="352.20" cy="118.38" r="1.8" fill="#000" stroke="none" stroke-width="0" fill-opacity="0.55"/>
<circle cx="356.64" cy="118.93" r="1.8" fill="#000" stroke="none" stroke-width="0" fill-opacity="0.55"/>
<circle cx="362.94" cy="118.54" r="1.8" fill="#000" stroke="none" stroke-width="0" fill-opacity="0.55"/>
<circle cx="350.79" cy="124.43" r="1.8" fill="#000" stroke="none" stroke-width="0" fill-opacity="0.55"/>
<circle cx="352.57" cy="117.54" r="1.8" fill="#000" stroke="none" stroke-width="0" fill-opacity="0.55"/>
<circle cx="356.88" cy="118.02" r="1.8" fill="#000" stroke="none" stroke-width="0" fill-opacity="0.55"/>
<circle cx="352.89" cy="118.45" r="1.8" fill="#000" stroke="none" stroke-width="0" fill-opacity="0.55"/>
<circle cx="367.55" cy="116.81" r="1.8" fill="#000" stroke="none" stroke-width="0" fill-opacity="0.55"/>
<circle cx="356.87" cy="124.77" r="1.8" fill="#000" stroke="none" stroke-width="0" fill-opacity="0.55"/>
<circle cx="360.93" cy="123.11" r="1.8" fill="#000" stroke="none" stroke-width="0" fill-opacity="0.55"/>
<circle cx="361.47" cy="110.55" r="1.8" fill="#000" stroke="none" stroke-width="0" fill-opacity="0.55"/>
<circle cx="353.53" cy="120.19" r="1.8" fill="#000" stroke="none" stroke-width="0" fill-opacity="0.55"/>
<circle cx="359.79" cy="125.55" r="1.8" fill="#000" stroke="none" stroke-width="0" fill-opacity="0.55"/>
<circle cx="359.66" cy="118.50" r="1.8" fill="#000" stroke="none" stroke-width="0" fill-opacity="0.55"/>
<circle cx="357.68" cy="118.63" r="1.8" fill="#000" stroke="none" stroke-width="0" fill-opacity="0.55"/>
<circle cx="358.64" cy="122.70" r="1.8" fill="#000" stroke="none" stroke-width="0" fill-opacity="0.55"/>
<circle cx="355.94" cy="115.86" r="1.8" fill="#000" stroke="none" stroke-width="0" fill-opacity="0.55"/>
<circle cx="353.57" cy="124.65" r="1.8" fill="#000" stroke="none" stroke-width="0" fill-opacity="0.55"/>
<circle cx="363.39" cy="124.16" r="1.8" fill="#000" stroke="none" stroke-width="0" fill-opacity="0.55"/>
<circle cx="361.44" cy="123.43" r="1.8" fill="#000" stroke="none" stroke-width="0" fill-opacity="0.55"/>
<circle cx="357.49" cy="122.65" r="1.8" fill="#000" stroke="none" stroke-width="0" fill-opacity="0.55"/>
<circle cx="352.66" cy="118.67" r="1.8" fill="#000" stroke="none" stroke-width="0" fill-opacity="0.55"/>
<circle cx="354.12" cy="122.94" r="1.8" fill="#000" stroke="none" stroke-width="0" fill-opacity="0.55"/>
<circle cx="354.83" cy="119.10" r="1.8" fill="#000" stroke="none" stroke-width="0" fill-opacity="0.55"/>
<circle cx="359.34" cy="125.83" r="1.8" fill="#000" stroke="none" stroke-width="0" fill-opacity="0.55"/>
<circle cx="353.86" cy="115.28" r="1.8" fill="#000" stroke="none" stroke-width="0" fill-opacity="0.55"/>
<circle cx="361.26" cy="114.51" r="1.8" fill="#000" stroke="none" stroke-width="0" fill-opacity="0.55"/>
<circle cx="359.58" cy="116.98" r="1.8" fill="#000" stroke="none" stroke-width="0" fill-opacity="0.55"/>
<circle cx="357.01" cy="111.22" r="1.8" fill="#000" stroke="none" stroke-width="0" fill-opacity="0.55"/>
<circle cx="360.78" cy="117.30" r="1.8" fill="#000" stroke="none" stroke-width="0" fill-opacity="0.55"/>
<circle cx="353.37" cy="129.15" r="1.8" fill="#000" stroke="none" stroke-width="0" fill-opacity="0.55"/>
<circle cx="360.77" cy="135.74" r="1.8" fill="#000" stroke="none" stroke-width="0" fill-opacity="0.55"/>
<circle cx="359.38" cy="118.00" r="1.8" fill="#000" stroke="none" stroke-width="0" fill-opacity="0.55"/>
<circle cx="358.00" cy="126.99" r="1.8" fill="#000" stroke="none" stroke-width="0" fill-opacity="0.55"/>
<circle cx="357.38" cy="121.67" r="1.8" fill="#000" stroke="none" stroke-width="0" fill-opacity="0.55"/>
<circle cx="359.88" cy="115.41" r="1.8" fill="#000" stroke="none" stroke-width="0" fill-opacity="0.55"/>
<circle cx="358.09" cy="117.29" r="1.8" fill="#000" stroke="none" stroke-width="0" fill-opacity="0.55"/>
<circle cx="351.77" cy="123.61" r="1.8" fill="#000" stroke="none" stroke-width="0" fill-opacity="0.55"/>
<circle cx="360.56" cy="119.94" r="1.8" fill="#000" stroke="none" stroke-width="0" fill-opacity="0.55"/>
<circle cx="353.33" cy="110.37" r="1.8" fill="#000" stroke="none" stroke-width="0" fill-opacity="0.55"/>
<circle cx="359.73" cy="119.15" r="1.8" fill="#000" stroke="none" stroke-width="0" fill-opacity="0.55"/>
<circle cx="349.75" cy="119.32" r="1.8" fill="#000" stroke="none" stroke-width="0" fill-opacity="0.55"/>
<circle cx="350.50" cy="119.48" r="1.8" fill="#000" stroke="none" stroke-width="0" fill-opacity="0.55"/>
<circle cx="358.16" cy="121.23" r="1.8" fill="#000" stroke="none" stroke-width="0" fill-opacity="0.55"/>
<circle cx="358.50" cy="120.39" r="1.8" fill="#000" stroke="none" stroke-width="0" fill-opacity="0.55"/>
<circle cx="352.26" cy="117.84" r="1.8" fill="#000" stroke="none" stroke-width="0" fill-opacity="0.55"/>
<circle cx="355.15" cy="118.52" r="1.8" fill="#000" stroke="none" stroke-width="0" fill-opacity="0.55"/>
<circle cx="358.74" cy="122.45" r="1.8" fill="#000" stroke="none" stroke-width="0" fill-opacity="0.55"/>
<circle cx="365.02" cy="107.78" r="1.8" fill="#000" stroke="none" stroke-width="0" fill-opacity="0.55"/>
<circle cx="359.34" cy="118.69" r="1.8" fill="#000" stroke="none" stroke-width="0" fill-opacity="0.55"/>
<circle cx="367.97" cy="123.89" r="1.8" fill="#000" stroke="none" stroke-width="0" fill-opacity="0.55"/>
<circle cx="349.90" cy="121.45" r="1.8" fill="#000" stroke="none" stroke-width="0" fill-opacity="0.55"/>
<circle cx="355.10" cy="124.17" r="1.8" fill="#000" stroke="none" stroke-width="0" fill-opacity="0.55"/>
<circle cx="352.64" cy="119.13" r="1.8" fill="#000" stroke="none" stroke-width="0" fill-opacity="0.55"/>
<circle cx="356.89" cy="119.15" r="1.8" fill="#000" stroke="none" stroke-width="0" fill-opacity="0.55"/>
<circle cx="354.81" cy="111.15" r="1.8" fill="#000" stroke="none" stroke-width="0" fill-opacity="0.55"/>
<circle cx="359.62" cy="124.20" r="1.8" fill="#000" stroke="none" stroke-width="0" fill-opacity="0.55"/>
<circle cx="357.19" cy="114.92" r="1.8" fill="#000" stroke="none" stroke-width="0" fill-opacity="0.55"/>
<circle cx="358.43" cy="122.20" r="1.8" fill="#000" stroke="none" stroke-width="0" fill-opacity="0.55"/>
<circle cx="356.69" cy="119.54" r="1.8" fill="#000" stroke="none" stroke-width="0" fill-opacity="0.55"/>
<circle cx="363.98" cy="114.45" r="1.8" fill="#000" stroke="none" stroke-width="0" fill-opacity="0.55"/>
<circle cx="354.93" cy="110.83" r="1.8" fill="#000" stroke="none" stroke-width="0" fill-opacity="0.55"/>
<circle cx="354.28" cy="116.20" r="1.8" fill="#000" stroke="none" stroke-width="0" fill-opacity="0.55"/>
<circle cx="353.08" cy="116.41" r="1.8" fill="#000" stroke="none" stroke-width="0" fill-opacity="0.55"/>
<circle cx="365.77" cy="118.70" r="1.8" fill="#000" stroke="none" stroke-width="0" fill-opacity="0.55"/>
<circle cx="356.97" cy="129.71" r="1.8" fill="#000" stroke="none" stroke-width="0" fill-opacity="0.55"/>
<circle cx="357.22" cy="111.62" r="1.8" fill="#000" stroke="none" stroke-width="0" fill-opacity="0.55"/>
<circle cx="359.35" cy="115.29" r="1.8" fill="#000" stroke="none" stroke-width="0" fill-opacity="0.55"/>
<circle cx="365.04" cy="113.87" r="1.8" fill="#000" stroke="none" stroke-width="0" fill-opacity="0.55"/>
<circle cx="354.83" cy="112.21" r="1.8" fill="#000" stroke="none" stroke-width="0" fill-opacity="0.55"/>
<circle cx="357.95" cy="114.93" r="1.8" fill="#000" stroke="none" stroke-width="0" fill-opacity="0.55"/>
<circle cx="357.20" cy="117.87" r="1.8" fill="#000" stroke="none" stroke-width="0" fill-opacity="0.55"/>
<circle cx="354.68" cy="123.94" r="1.8" fill="#000" stroke="none" stroke-width="0" fill-opacity="0.55"/>
<circle cx="361.80" cy="119.89" r="1.8" fill="#000" stroke="none" stroke-width="0" fill-opacity="0.55"/>
<circle cx="353.36" cy="114.68" r="1.8" fill="#000" stroke="none" stroke-width="0" fill-opacity="0.55"/>
<circle cx="358.74" cy="130.60" r="1.8" fill="#000" stroke="none" stroke-width="0" fill-opacity="0.55"/>
<circle cx="355.40" cy="115.99" r="1.8" fill="#000" stroke="none" stroke-width="0" fill-opacity="0.55"/>
<circle cx="354.29" cy="114.56" r="1.8" fill="#000" stroke="none" stroke-width="0" fill-opacity="0.55"/>
<circle cx="353.03" cy="118.66" r="1.8" fill="#000" stroke="none" stroke-width="0" fill-opacity="0.55"/>
<circle cx="364.10" cy="119.60" r="1.8" fill="#000" stroke="none" stroke-width="0" fill-opacity="0.55"/>
<circle cx="355.15" cy="112.17" r="1.8" fill="#000" stroke="none" stroke-width="0" fill-opacity="0.55"/>
<circle cx="358.48" cy="119.48" r="1.8" fill="#000" stroke="none" stroke-width="0" fill-opacity="0.55"/>
<circle cx="351.86" cy="114.60" r="1.8" fill="#000" stroke="none" stroke-width="0" fill-opacity="0.55"/>
<circle cx="357.31" cy="124.26" r="1.8" fill="#000" stroke="none" stroke-width="0" fill-opacity="0.55"/>
<circle cx="360.38" cy="120.55" r="1.8" fill="#000" stroke="none" stroke-width="0" fill-opacity="0.55"/>
<circle cx="356.01" cy="121.07" r="1.8" fill="#000" stroke="none" stroke-width="0" fill-opacity="0.55"/>
<circle cx="357.44" cy="129.60" r="1.8" fill="#000" stroke="none" stroke-width="0" fill-opacity="0.55"/>
<circle cx="352.29" cy="117.91" r="1.8" fill="#000" stroke="none" stroke-width="0" fill-opacity="0.55"/>
<circle cx="363.33" cy="118.38" r="1.8" fill="#000" stroke="none" stroke-width="0" fill-opacity="0.55"/>
<circle cx="364.05" cy="119.40" r="1.8" fill="#000" stroke="none" stroke-width="0" fill-opacity="0.55"/>
<circle cx="358.17" cy="117.90" r="1.8" fill="#000" stroke="none" stroke-width="0" fill-opacity="0.55"/>
<circle cx="351.15" cy="115.13" r="1.8" fill="#000" stroke="none" stroke-width="0" fill-opacity="0.55"/>
<circle cx="367.69" cy="122.57" r="1.8" fill="#000" stroke="none" stroke-width="0" fill-opacity="0.55"/>
<circle cx="360.29" cy="123.99" r="1.8" fill="#000" stroke="none" stroke-width="0" fill-opacity="0.55"/>
<circle cx="360.12" cy="124.30" r="1.8" fill="#000" stroke="none" stroke-width="0" fill-opacity="0.55"/>
<circle cx="356.28" cy="118.57" r="1.8" fill="#000" stroke="none" stroke-width="0" fill-opacity="0.55"/>
<circle cx="362.03" cy="117.98" r="1.8" fill="#000" stroke="none" stroke-width="0" fill-opacity="0.55"/>
<circle cx="351.38" cy="118.56" r="1.8" fill="#000" stroke="none" stroke-width="0" fill-opacity="0.55"/>
<circle cx="354.99" cy="122.42" r="1.8" fill="#000" stroke="none" stroke-width="0" fill-opacity="0.55"/>
<circle cx="354.19" cy="114.72" r="1.8" fill="#000" stroke="none" stroke-width="0" fill-opacity="0.55"/>
<circle cx="355.97" cy="126.74" r="1.8" fill="#000" stroke="none" stroke-width="0" fill-opacity="0.55"/>
<circle cx="357.28" cy="120.34" r="1.8" fill="#000" stroke="none" stroke-width="0" fill-opacity="0.55"/>
<circle cx="357.54" cy="120.96" r="1.8" fill="#000" stroke="none" stroke-width="0" fill-opacity="0.55"/>
<circle cx="361.77" cy="126.02" r="1.8" fill="#000" stroke="none" stroke-width="0" fill-opacity="0.55"/>
<circle cx="349.94" cy="125.86" r="1.8" fill="#000" stroke="none" stroke-width="0" fill-opacity="0.55"/>
<circle cx="357.48" cy="118.12" r="1.8" fill="#000" stroke="none" stroke-width="0" fill-opacity="0.55"/>
<circle cx="368.53" cy="118.82" r="1.8" fill="#000" stroke="none" stroke-width="0" fill-opacity="0.55"/>
<circle cx="366.45" cy="124.05" r="1.8" fill="#000" stroke="none" stroke-width="0" fill-opacity="0.55"/>
<circle cx="352.76" cy="121.85" r="1.8" fill="#000" stroke="none" stroke-width="0" fill-opacity="0.55"/>
<circle cx="360.89" cy="119.02" r="1.8" fill="#000" stroke="none" stroke-width="0" fill-opacity="0.55"/>
<circle cx="346.79" cy="118.02" r="1.8" fill="#000" stroke="none" stroke-width="0" fill-opacity="0.55"/>
<circle cx="356.62" cy="114.50" r="1.8" fill="#000" stroke="none" stroke-width="0" fill-opacity="0.55"/>
<circle cx="365.90" cy="118.48" r="1.8" fill="#000" stroke="none" stroke-width="0" fill-opacity="0.55"/>
<circle cx="355.69" cy="118.22" r="1.8" fill="#000" stroke="none" stroke-width="0" fill-opacity="0.55"/>
<circle cx="353.90" cy="116.03" r="1.8" fill="#000" stroke="none" stroke-width="0" fill-opacity="0.55"/>
<circle cx="357.93" cy="121.04" r="1.8" fill="#000" stroke="none" stroke-width="0" fill-opacity="0.55"/>
<circle cx="355.17" cy="119.18" r="1.8" fill="#000" stroke="none" stroke-width="0" fill-opacity="0.55"/>
<circle cx="351.11" cy="122.00" r="1.8" fill="#000" stroke="none" stroke-width="0" fill-opacity="0.55"/>
<circle cx="354.05" cy="120.59" r="1.8" fill="#000" stroke="none" stroke-width="0" fill-opacity="0.55"/>
<circle cx="353.33" cy="117.23" r="1.8" fill="#000" stroke="none" stroke-width="0" fill-opacity="0.55"/>
<circle cx="358.49" cy="114.03" r="1.8" fill="#000" stroke="none" stroke-width="0" fill-opacity="0.55"/>
<circle cx="368.86" cy="119.43" r="1.8" fill="#000" stroke="none" stroke-width="0" fill-opacity="0.55"/>
<circle cx="357.17" cy="116.22" r="1.8" fill="#000" stroke="none" stroke-width="0" fill-opacity="0.55"/>
<circle cx="364.84" cy="125.98" r="1.8" fill="#000" stroke="none" stroke-width="0" fill-opacity="0.55"/>
<circle cx="358.88" cy="113.31" r="1.8" fill="#000" stroke="none" stroke-width="0" fill-opacity="0.55"/>
<circle cx="355.18" cy="122.43" r="1.8" fill="#000" stroke="none" stroke-width="0" fill-opacity="0.55"/>
<circle cx="355.14" cy="114.15" r="1.8" fill="#000" stroke="none" stroke-width="0" fill-opacity="0.55"/>
<circle cx="352.04" cy="116.05" r="1.8" fill="#000" stroke="none" stroke-width="0" fill-opacity="0.55"/>
<circle cx="357.56" cy="116.62" r="1.8" fill="#000" stroke="none" stroke-width="0" fill-opacity="0.55"/>
<circle cx="357.58" cy="132.44" r="1.8" fill="#000" stroke="none" stroke-width="0" fill-opacity="0.55"/>
<circle cx="365.66" cy="114.83" r="1.8" fill="#000" stroke="none" stroke-width="0" fill-opacity="0.55"/>
<circle cx="359.08" cy="120.00" r="1.8" fill="#000" stroke="none" stroke-width="0" fill-opacity="0.55"/>
<circle cx="356.86" cy="124.40" r="1.8" fill="#000" stroke="none" stroke-width="0" fill-opacity="0.55"/>
<circle cx="355.97" cy="118.10" r="1.8" fill="#000" stroke="none" stroke-width="0" fill-opacity="0.55"/>
<circle cx="355.78" cy="119.14" r="1.8" fill="#000" stroke="none" stroke-width="0" fill-opacity="0.55"/>
<circle cx="353.04" cy="94.46" r="1.8" fill="#30559a" stroke="#1a2c55" stroke-width="0.75"/>
<circle cx="361.30" cy="92.29" r="1.8" fill="#30559a" stroke="#1a2c55" stroke-width="0.75"/>
<circle cx="358.14" cy="84.97" r="1.8" fill="#30559a" stroke="#1a2c55" stroke-width="0.75"/>
<circle cx="364.76" cy="102.25" r="1.8" fill="#30559a" stroke="#1a2c55" stroke-width="0.75"/>
<circle cx="365.90" cy="91.94" r="1.8" fill="#30559a" stroke="#1a2c55" stroke-width="0.75"/>
<circle cx="365.18" cy="72.23" r="1.8" fill="#30559a" stroke="#1a2c55" stroke-width="0.75"/>
<circle cx="365.92" cy="79.71" r="1.8" fill="#30559a" stroke="#1a2c55" stroke-width="0.75"/>
<circle cx="363.14" cy="109.48" r="1.8" fill="#30559a" stroke="#1a2c55" stroke-width="0.75"/>
<circle cx="357.29" cy="88.33" r="1.8" fill="#30559a" stroke="#1a2c55" stroke-width="0.75"/>
<circle cx="364.78" cy="106.20" r="1.8" fill="#30559a" stroke="#1a2c55" stroke-width="0.75"/>
<circle cx="353.23" cy="104.01" r="1.8" fill="#30559a" stroke="#1a2c55" stroke-width="0.75"/>
<circle cx="361.54" cy="85.27" r="1.8" fill="#30559a" stroke="#1a2c55" stroke-width="0.75"/>
<circle cx="363.70" cy="76.35" r="1.8" fill="#30559a" stroke="#1a2c55" stroke-width="0.75"/>
<circle cx="355.30" cy="93.78" r="1.8" fill="#30559a" stroke="#1a2c55" stroke-width="0.75"/>
<circle cx="364.40" cy="95.31" r="1.8" fill="#30559a" stroke="#1a2c55" stroke-width="0.75"/>
<circle cx="357.87" cy="96.85" r="1.8" fill="#30559a" stroke="#1a2c55" stroke-width="0.75"/>
<circle cx="364.13" cy="89.33" r="1.8" fill="#30559a" stroke="#1a2c55" stroke-width="0.75"/>
<circle cx="367.85" cy="107.12" r="1.8" fill="#30559a" stroke="#1a2c55" stroke-width="0.75"/>
<circle cx="367.76" cy="83.02" r="1.8" fill="#30559a" stroke="#1a2c55" stroke-width="0.75"/>
<circle cx="365.79" cy="76.63" r="1.8" fill="#30559a" stroke="#1a2c55" stroke-width="0.75"/>
<circle cx="368.14" cy="104.95" r="1.8" fill="#30559a" stroke="#1a2c55" stroke-width="0.75"/>
<circle cx="354.97" cy="89.06" r="1.8" fill="#30559a" stroke="#1a2c55" stroke-width="0.75"/>
<circle cx="365.69" cy="87.95" r="1.8" fill="#30559a" stroke="#1a2c55" stroke-width="0.75"/>
<circle cx="366.39" cy="89.01" r="1.8" fill="#30559a" stroke="#1a2c55" stroke-width="0.75"/>
<circle cx="354.64" cy="98.43" r="1.8" fill="#30559a" stroke="#1a2c55" stroke-width="0.75"/>
<circle cx="367.18" cy="75.51" r="1.8" fill="#30559a" stroke="#1a2c55" stroke-width="0.75"/>
<circle cx="361.19" cy="89.24" r="1.8" fill="#30559a" stroke="#1a2c55" stroke-width="0.75"/>
<circle cx="368.70" cy="93.26" r="1.8" fill="#30559a" stroke="#1a2c55" stroke-width="0.75"/>
<circle cx="361.23" cy="99.83" r="1.8" fill="#30559a" stroke="#1a2c55" stroke-width="0.75"/>
<circle cx="364.62" cy="105.16" r="1.8" fill="#30559a" stroke="#1a2c55" stroke-width="0.75"/>
<circle cx="353.01" cy="92.44" r="1.8" fill="#30559a" stroke="#1a2c55" stroke-width="0.75"/>
<circle cx="354.06" cy="97.80" r="1.8" fill="#30559a" stroke="#1a2c55" stroke-width="0.75"/>
<circle cx="363.05" cy="73.78" r="1.8" fill="#30559a" stroke="#1a2c55" stroke-width="0.75"/>
<circle cx="355.42" cy="98.74" r="1.8" fill="#30559a" stroke="#1a2c55" stroke-width="0.75"/>
<circle cx="360.78" cy="98.71" r="1.8" fill="#30559a" stroke="#1a2c55" stroke-width="0.75"/>
<circle cx="368.74" cy="94.27" r="1.8" fill="#30559a" stroke="#1a2c55" stroke-width="0.75"/>
<circle cx="360.29" cy="87.79" r="1.8" fill="#30559a" stroke="#1a2c55" stroke-width="0.75"/>
<circle cx="364.33" cy="95.99" r="1.8" fill="#30559a" stroke="#1a2c55" stroke-width="0.75"/>
<circle cx="367.79" cy="81.71" r="1.8" fill="#30559a" stroke="#1a2c55" stroke-width="0.75"/>
<circle cx="366.21" cy="94.00" r="1.8" fill="#30559a" stroke="#1a2c55" stroke-width="0.75"/>
<circle cx="366.69" cy="100.68" r="1.8" fill="#30559a" stroke="#1a2c55" stroke-width="0.75"/>
<circle cx="366.34" cy="104.66" r="1.8" fill="#30559a" stroke="#1a2c55" stroke-width="0.75"/>
<circle cx="368.55" cy="92.73" r="1.8" fill="#30559a" stroke="#1a2c55" stroke-width="0.75"/>
<circle cx="360.82" cy="96.08" r="1.8" fill="#30559a" stroke="#1a2c55" stroke-width="0.75"/>
<circle cx="365.78" cy="82.24" r="1.8" fill="#30559a" stroke="#1a2c55" stroke-width="0.75"/>
<circle cx="364.69" cy="109.57" r="1.8" fill="#30559a" stroke="#1a2c55" stroke-width="0.75"/>
<circle cx="356.70" cy="108.55" r="1.8" fill="#30559a" stroke="#1a2c55" stroke-width="0.75"/>
<circle cx="353.54" cy="93.10" r="1.8" fill="#30559a" stroke="#1a2c55" stroke-width="0.75"/>
<circle cx="365.31" cy="70.61" r="1.8" fill="#30559a" stroke="#1a2c55" stroke-width="0.75"/>
<circle cx="361.90" cy="105.65" r="1.8" fill="#30559a" stroke="#1a2c55" stroke-width="0.75"/>
<circle cx="355.69" cy="96.43" r="1.8" fill="#30559a" stroke="#1a2c55" stroke-width="0.75"/>
<circle cx="354.57" cy="98.36" r="1.8" fill="#30559a" stroke="#1a2c55" stroke-width="0.75"/>
<circle cx="357.05" cy="88.32" r="1.8" fill="#30559a" stroke="#1a2c55" stroke-width="0.75"/>
<circle cx="366.04" cy="85.02" r="1.8" fill="#30559a" stroke="#1a2c55" stroke-width="0.75"/>
<circle cx="356.14" cy="104.60" r="1.8" fill="#30559a" stroke="#1a2c55" stroke-width="0.75"/>
<circle cx="368.20" cy="79.39" r="1.8" fill="#3a60a2" stroke="#28467e" stroke-width="0.75"/>
<circle cx="363.51" cy="107.07" r="1.8" fill="#3a60a2" stroke="#28467e" stroke-width="0.75"/>
<circle cx="362.68" cy="73.95" r="1.8" fill="#3a60a2" stroke="#28467e" stroke-width="0.75"/>
<circle cx="357.14" cy="106.64" r="1.8" fill="#3a60a2" stroke="#28467e" stroke-width="0.75"/>
<circle cx="366.76" cy="81.32" r="1.8" fill="#3a60a2" stroke="#28467e" stroke-width="0.75"/>
<circle cx="363.25" cy="87.21" r="1.8" fill="#3a60a2" stroke="#28467e" stroke-width="0.75"/>
<circle cx="360.01" cy="108.56" r="1.8" fill="#3a60a2" stroke="#28467e" stroke-width="0.75"/>
<circle cx="364.92" cy="74.69" r="1.8" fill="#3a60a2" stroke="#28467e" stroke-width="0.75"/>
<circle cx="361.26" cy="99.85" r="1.8" fill="#3a60a2" stroke="#28467e" stroke-width="0.75"/>
<circle cx="365.63" cy="91.27" r="1.8" fill="#3a60a2" stroke="#28467e" stroke-width="0.75"/>
<circle cx="360.62" cy="75.67" r="1.8" fill="#3a60a2" stroke="#28467e" stroke-width="0.75"/>
<circle cx="367.63" cy="87.23" r="1.8" fill="#3a60a2" stroke="#28467e" stroke-width="0.75"/>
<circle cx="364.65" cy="108.69" r="1.8" fill="#3a60a2" stroke="#28467e" stroke-width="0.75"/>
<circle cx="359.91" cy="88.06" r="1.8" fill="#3a60a2" stroke="#28467e" stroke-width="0.75"/>
<circle cx="358.43" cy="98.67" r="1.8" fill="#3a60a2" stroke="#28467e" stroke-width="0.75"/>
<circle cx="367.33" cy="100.99" r="1.8" fill="#3a60a2" stroke="#28467e" stroke-width="0.75"/>
<circle cx="362.65" cy="85.09" r="1.8" fill="#3a60a2" stroke="#28467e" stroke-width="0.75"/>
<circle cx="368.73" cy="90.40" r="1.8" fill="#3a60a2" stroke="#28467e" stroke-width="0.75"/>
<circle cx="367.47" cy="77.66" r="1.8" fill="#3a60a2" stroke="#28467e" stroke-width="0.75"/>
<circle cx="366.60" cy="82.76" r="1.8" fill="#3a60a2" stroke="#28467e" stroke-width="0.75"/>
<circle cx="368.23" cy="68.09" r="1.8" fill="#3a60a2" stroke="#28467e" stroke-width="0.75"/>
<circle cx="367.08" cy="73.38" r="1.8" fill="#3a60a2" stroke="#28467e" stroke-width="0.75"/>
<circle cx="363.46" cy="87.66" r="1.8" fill="#3a60a2" stroke="#28467e" stroke-width="0.75"/>
<circle cx="358.52" cy="101.44" r="1.8" fill="#3a60a2" stroke="#28467e" stroke-width="0.75"/>
<circle cx="360.49" cy="77.98" r="1.8" fill="#3a60a2" stroke="#28467e" stroke-width="0.75"/>
<circle cx="362.48" cy="96.18" r="1.8" fill="#3a60a2" stroke="#28467e" stroke-width="0.75"/>
<circle cx="361.10" cy="94.92" r="1.8" fill="#3a60a2" stroke="#28467e" stroke-width="0.75"/>
<circle cx="362.41" cy="107.51" r="1.8" fill="#3a60a2" stroke="#28467e" stroke-width="0.75"/>
<circle cx="367.12" cy="93.43" r="1.8" fill="#3a60a2" stroke="#28467e" stroke-width="0.75"/>
<circle cx="365.59" cy="74.69" r="1.8" fill="#3a60a2" stroke="#28467e" stroke-width="0.75"/>
<circle cx="363.72" cy="84.61" r="1.8" fill="#3a60a2" stroke="#28467e" stroke-width="0.75"/>
<circle cx="366.73" cy="73.30" r="1.8" fill="#3a60a2" stroke="#28467e" stroke-width="0.75"/>
<circle cx="364.39" cy="77.07" r="1.8" fill="#3a60a2" stroke="#28467e" stroke-width="0.75"/>
<circle cx="361.31" cy="88.29" r="1.8" fill="#3a60a2" stroke="#28467e" stroke-width="0.75"/>
<circle cx="360.32" cy="79.18" r="1.8" fill="#3a60a2" stroke="#28467e" stroke-width="0.75"/>
<circle cx="361.52" cy="94.00" r="1.8" fill="#3a60a2" stroke="#28467e" stroke-width="0.75"/>
<circle cx="365.86" cy="78.82" r="1.8" fill="#3a60a2" stroke="#28467e" stroke-width="0.75"/>
<circle cx="368.60" cy="89.33" r="1.8" fill="#3a60a2" stroke="#28467e" stroke-width="0.75"/>
<circle cx="365.76" cy="78.92" r="1.8" fill="#3a60a2" stroke="#28467e" stroke-width="0.75"/>
<circle cx="367.08" cy="68.15" r="1.8" fill="#3a60a2" stroke="#28467e" stroke-width="0.75"/>
<circle cx="365.17" cy="95.87" r="1.8" fill="#3a60a2" stroke="#28467e" stroke-width="0.75"/>
<circle cx="358.80" cy="82.10" r="1.8" fill="#3a60a2" stroke="#28467e" stroke-width="0.75"/>
<circle cx="367.21" cy="90.67" r="1.8" fill="#3a60a2" stroke="#28467e" stroke-width="0.75"/>
<circle cx="368.28" cy="83.22" r="1.8" fill="#3a60a2" stroke="#28467e" stroke-width="0.75"/>
<circle cx="363.05" cy="93.13" r="1.8" fill="#3a60a2" stroke="#28467e" stroke-width="0.75"/>
<circle cx="366.32" cy="100.95" r="1.8" fill="#3a60a2" stroke="#28467e" stroke-width="0.75"/>
<circle cx="361.44" cy="78.91" r="1.8" fill="#3a60a2" stroke="#28467e" stroke-width="0.75"/>
<circle cx="361.63" cy="95.49" r="1.8" fill="#3a60a2" stroke="#28467e" stroke-width="0.75"/>
<circle cx="369.07" cy="99.54" r="1.8" fill="#3a60a2" stroke="#28467e" stroke-width="0.75"/>
<circle cx="364.95" cy="91.39" r="1.8" fill="#3a60a2" stroke="#28467e" stroke-width="0.75"/>
<circle cx="360.88" cy="93.28" r="1.8" fill="#3a60a2" stroke="#28467e" stroke-width="0.75"/>
<circle cx="363.02" cy="99.48" r="1.8" fill="#3a60a2" stroke="#28467e" stroke-width="0.75"/>
<circle cx="367.06" cy="91.51" r="1.8" fill="#3a60a2" stroke="#28467e" stroke-width="0.75"/>
<circle cx="358.53" cy="98.49" r="1.8" fill="#3a60a2" stroke="#28467e" stroke-width="0.75"/>
<circle cx="368.06" cy="88.67" r="1.8" fill="#3a60a2" stroke="#28467e" stroke-width="0.75"/>
<circle cx="361.01" cy="86.52" r="1.8" fill="#3a60a2" stroke="#28467e" stroke-width="0.75"/>
<circle cx="358.31" cy="96.10" r="1.8" fill="#3a60a2" stroke="#28467e" stroke-width="0.75"/>
<circle cx="369.13" cy="87.22" r="1.8" fill="#3a60a2" stroke="#28467e" stroke-width="0.75"/>
<circle cx="365.66" cy="101.60" r="1.8" fill="#3a60a2" stroke="#28467e" stroke-width="0.75"/>
<circle cx="359.02" cy="106.52" r="1.8" fill="#3a60a2" stroke="#28467e" stroke-width="0.75"/>
<circle cx="364.53" cy="72.91" r="1.8" fill="#3a60a2" stroke="#28467e" stroke-width="0.75"/>
<circle cx="363.88" cy="95.37" r="1.8" fill="#3a60a2" stroke="#28467e" stroke-width="0.75"/>
<circle cx="360.71" cy="105.81" r="1.8" fill="#3a60a2" stroke="#28467e" stroke-width="0.75"/>
<circle cx="361.12" cy="84.84" r="1.8" fill="#3a60a2" stroke="#28467e" stroke-width="0.75"/>
<circle cx="358.09" cy="107.81" r="1.8" fill="#3a60a2" stroke="#28467e" stroke-width="0.75"/>
<circle cx="358.24" cy="104.68" r="1.8" fill="#3a60a2" stroke="#28467e" stroke-width="0.75"/>
<circle cx="363.46" cy="89.23" r="1.8" fill="#3a60a2" stroke="#28467e" stroke-width="0.75"/>
<circle cx="363.67" cy="75.90" r="1.8" fill="#3a60a2" stroke="#28467e" stroke-width="0.75"/>
<circle cx="368.14" cy="108.65" r="1.8" fill="#3a60a2" stroke="#28467e" stroke-width="0.75"/>
<circle cx="366.96" cy="91.07" r="1.8" fill="#3a60a2" stroke="#28467e" stroke-width="0.75"/>
<circle cx="358.07" cy="101.11" r="1.8" fill="#3a60a2" stroke="#28467e" stroke-width="0.75"/>
<circle cx="360.19" cy="104.37" r="1.8" fill="#3a60a2" stroke="#28467e" stroke-width="0.75"/>
<circle cx="359.58" cy="89.81" r="1.8" fill="#3a60a2" stroke="#28467e" stroke-width="0.75"/>
<circle cx="367.13" cy="72.35" r="1.8" fill="#3a60a2" stroke="#28467e" stroke-width="0.75"/>
<circle cx="369.13" cy="106.28" r="1.8" fill="#3a60a2" stroke="#28467e" stroke-width="0.75"/>
<circle cx="364.93" cy="77.84" r="1.8" fill="#3a60a2" stroke="#28467e" stroke-width="0.75"/>
<circle cx="365.09" cy="97.20" r="1.8" fill="#3a60a2" stroke="#28467e" stroke-width="0.75"/>
<circle cx="361.39" cy="90.64" r="1.8" fill="#3a60a2" stroke="#28467e" stroke-width="0.75"/>
<circle cx="359.05" cy="85.06" r="1.8" fill="#3a60a2" stroke="#28467e" stroke-width="0.75"/>
<circle cx="358.33" cy="81.39" r="1.8" fill="#3a60a2" stroke="#28467e" stroke-width="0.75"/>
<circle cx="363.79" cy="71.82" r="1.8" fill="#3a60a2" stroke="#28467e" stroke-width="0.75"/>
<circle cx="363.15" cy="75.86" r="1.8" fill="#3a60a2" stroke="#28467e" stroke-width="0.75"/>
<circle cx="363.77" cy="78.94" r="1.8" fill="#3a60a2" stroke="#28467e" stroke-width="0.75"/>
<circle cx="365.09" cy="70.51" r="1.8" fill="#3a60a2" stroke="#28467e" stroke-width="0.75"/>
<circle cx="368.78" cy="91.00" r="1.8" fill="#3a60a2" stroke="#28467e" stroke-width="0.75"/>
<circle cx="368.80" cy="62.30" r="1.8" fill="#30559a" stroke="#1a2c55" stroke-width="0.75"/>
<circle cx="369.40" cy="65.70" r="1.8" fill="#30559a" stroke="#1a2c55" stroke-width="0.75"/>
<circle cx="364.20" cy="70.40" r="1.8" fill="#30559a" stroke="#1a2c55" stroke-width="0.75"/>
<circle cx="362.50" cy="72.70" r="1.8" fill="#30559a" stroke="#1a2c55" stroke-width="0.75"/>
<circle cx="354.40" cy="74.40" r="1.8" fill="#30559a" stroke="#1a2c55" stroke-width="0.75"/>
<circle cx="356.70" cy="80.40" r="1.8" fill="#30559a" stroke="#1a2c55" stroke-width="0.75"/>
<circle cx="349.20" cy="85.60" r="1.8" fill="#30559a" stroke="#1a2c55" stroke-width="0.75"/>
<circle cx="338.00" cy="99.40" r="1.8" fill="#30559a" stroke="#1a2c55" stroke-width="0.75"/>
<circle cx="341.30" cy="97.50" r="1.8" fill="#30559a" stroke="#1a2c55" stroke-width="0.75"/>
<circle cx="343.80" cy="97.00" r="1.8" fill="#30559a" stroke="#1a2c55" stroke-width="0.75"/>
<circle cx="335.60" cy="108.10" r="1.8" fill="#30559a" stroke="#1a2c55" stroke-width="0.75"/>
<circle cx="347.10" cy="106.20" r="1.8" fill="#30559a" stroke="#1a2c55" stroke-width="0.75"/>
<circle cx="339.00" cy="99.20" r="1.8" fill="#30559a" stroke="#1a2c55" stroke-width="0.75"/>
<circle cx="346.50" cy="104.50" r="1.8" fill="#30559a" stroke="#1a2c55" stroke-width="0.75"/>
<circle cx="351.70" cy="96.90" r="1.8" fill="#30559a" stroke="#1a2c55" stroke-width="0.75"/>
<circle cx="352.30" cy="101.50" r="1.8" fill="#30559a" stroke="#1a2c55" stroke-width="0.75"/>
<circle cx="342.30" cy="96.50" r="1.8" fill="#30559a" stroke="#1a2c55" stroke-width="0.75"/>
<circle cx="373.00" cy="112.50" r="1.8" fill="#30559a" stroke="#1a2c55" stroke-width="0.75"/>
<circle cx="373.00" cy="121.70" r="1.8" fill="#30559a" stroke="#1a2c55" stroke-width="0.75"/>
<circle cx="382.90" cy="119.70" r="1.8" fill="#30559a" stroke="#1a2c55" stroke-width="0.75"/>
<circle cx="394.50" cy="114.90" r="1.8" fill="#30559a" stroke="#1a2c55" stroke-width="0.75"/>
<circle cx="350.10" cy="128.60" r="1.8" fill="#30559a" stroke="#1a2c55" stroke-width="0.75"/>
<circle cx="372.00" cy="110.50" r="1.8" fill="#30559a" stroke="#1a2c55" stroke-width="0.75"/>
<circle cx="353.80" cy="107.70" r="1.8" fill="#30559a" stroke="#1a2c55" stroke-width="0.75"/>
<circle cx="375.22" cy="83.43" r="1.8" fill="#bb1039" stroke="#700a26" stroke-width="0.75"/>
<circle cx="376.66" cy="93.85" r="1.8" fill="#bb1039" stroke="#700a26" stroke-width="0.75"/>
<circle cx="374.64" cy="84.27" r="1.8" fill="#bb1039" stroke="#700a26" stroke-width="0.75"/>
<circle cx="375.74" cy="87.69" r="1.8" fill="#bb1039" stroke="#700a26" stroke-width="0.75"/>
<circle cx="373.81" cy="70.05" r="1.8" fill="#bb1039" stroke="#700a26" stroke-width="0.75"/>
<circle cx="377.68" cy="90.41" r="1.8" fill="#bb1039" stroke="#700a26" stroke-width="0.75"/>
<circle cx="377.87" cy="79.43" r="1.8" fill="#bb1039" stroke="#700a26" stroke-width="0.75"/>
<circle cx="376.38" cy="70.62" r="1.8" fill="#bb1039" stroke="#700a26" stroke-width="0.75"/>
<circle cx="371.97" cy="84.76" r="1.8" fill="#bb1039" stroke="#700a26" stroke-width="0.75"/>
<circle cx="375.52" cy="82.88" r="1.8" fill="#bb1039" stroke="#700a26" stroke-width="0.75"/>
<circle cx="371.29" cy="94.06" r="1.8" fill="#bb1039" stroke="#700a26" stroke-width="0.75"/>
<circle cx="375.75" cy="76.97" r="1.8" fill="#bb1039" stroke="#700a26" stroke-width="0.75"/>
<circle cx="373.68" cy="82.83" r="1.8" fill="#bb1039" stroke="#700a26" stroke-width="0.75"/>
<circle cx="373.02" cy="70.57" r="1.8" fill="#bb1039" stroke="#700a26" stroke-width="0.75"/>
<circle cx="374.76" cy="98.20" r="1.8" fill="#bb1039" stroke="#700a26" stroke-width="0.75"/>
<circle cx="372.88" cy="96.00" r="1.8" fill="#bb1039" stroke="#700a26" stroke-width="0.75"/>
<circle cx="371.73" cy="97.71" r="1.8" fill="#bb1039" stroke="#700a26" stroke-width="0.75"/>
<circle cx="371.96" cy="88.16" r="1.8" fill="#bb1039" stroke="#700a26" stroke-width="0.75"/>
<circle cx="373.09" cy="79.22" r="1.8" fill="#bb1039" stroke="#700a26" stroke-width="0.75"/>
<circle cx="373.85" cy="70.35" r="1.8" fill="#bb1039" stroke="#700a26" stroke-width="0.75"/>
<circle cx="374.53" cy="81.37" r="1.8" fill="#bb1039" stroke="#700a26" stroke-width="0.75"/>
<circle cx="371.09" cy="101.69" r="1.8" fill="#bb1039" stroke="#700a26" stroke-width="0.75"/>
<circle cx="373.69" cy="86.69" r="1.8" fill="#bb1039" stroke="#700a26" stroke-width="0.75"/>
<circle cx="375.24" cy="75.74" r="1.8" fill="#bb1039" stroke="#700a26" stroke-width="0.75"/>
<circle cx="373.58" cy="102.60" r="1.8" fill="#bb1039" stroke="#700a26" stroke-width="0.75"/>
<circle cx="378.68" cy="81.28" r="1.8" fill="#bb1039" stroke="#700a26" stroke-width="0.75"/>
<circle cx="375.24" cy="74.45" r="1.8" fill="#bb1039" stroke="#700a26" stroke-width="0.75"/>
<circle cx="372.70" cy="91.71" r="1.8" fill="#bb1039" stroke="#700a26" stroke-width="0.75"/>
<circle cx="372.60" cy="101.01" r="1.8" fill="#bb1039" stroke="#700a26" stroke-width="0.75"/>
<circle cx="371.27" cy="71.98" r="1.8" fill="#bb1039" stroke="#700a26" stroke-width="0.75"/>
<circle cx="377.62" cy="79.74" r="1.8" fill="#bb1039" stroke="#700a26" stroke-width="0.75"/>
<circle cx="377.50" cy="73.06" r="1.8" fill="#bb1039" stroke="#700a26" stroke-width="0.75"/>
<circle cx="374.98" cy="70.96" r="1.8" fill="#bb1039" stroke="#700a26" stroke-width="0.75"/>
<circle cx="372.90" cy="79.52" r="1.8" fill="#bb1039" stroke="#700a26" stroke-width="0.75"/>
<circle cx="377.48" cy="75.37" r="1.8" fill="#bb1039" stroke="#700a26" stroke-width="0.75"/>
<circle cx="372.50" cy="76.83" r="1.8" fill="#bb1039" stroke="#700a26" stroke-width="0.75"/>
<circle cx="374.30" cy="92.83" r="1.8" fill="#bb1039" stroke="#700a26" stroke-width="0.75"/>
<circle cx="379.11" cy="90.12" r="1.8" fill="#bb1039" stroke="#700a26" stroke-width="0.75"/>
<circle cx="372.95" cy="79.29" r="1.8" fill="#bb1039" stroke="#700a26" stroke-width="0.75"/>
<circle cx="373.40" cy="92.00" r="1.8" fill="#bb1039" stroke="#700a26" stroke-width="0.75"/>
<circle cx="374.94" cy="87.81" r="1.8" fill="#bb1039" stroke="#700a26" stroke-width="0.75"/>
<circle cx="376.44" cy="78.67" r="1.8" fill="#bb1039" stroke="#700a26" stroke-width="0.75"/>
<circle cx="373.16" cy="98.12" r="1.8" fill="#bb1039" stroke="#700a26" stroke-width="0.75"/>
<circle cx="371.62" cy="78.69" r="1.8" fill="#bb1039" stroke="#700a26" stroke-width="0.75"/>
<circle cx="377.90" cy="77.22" r="1.8" fill="#bb1039" stroke="#700a26" stroke-width="0.75"/>
<circle cx="373.42" cy="88.55" r="1.8" fill="#bb1039" stroke="#700a26" stroke-width="0.75"/>
<circle cx="372.55" cy="101.64" r="1.8" fill="#bb1039" stroke="#700a26" stroke-width="0.75"/>
<circle cx="375.14" cy="96.15" r="1.8" fill="#bb1039" stroke="#700a26" stroke-width="0.75"/>
<circle cx="375.50" cy="74.75" r="1.8" fill="#bb1039" stroke="#700a26" stroke-width="0.75"/>
<circle cx="376.03" cy="92.19" r="1.8" fill="#bb1039" stroke="#700a26" stroke-width="0.75"/>
<circle cx="374.18" cy="92.68" r="1.8" fill="#bb1039" stroke="#700a26" stroke-width="0.75"/>
<circle cx="378.16" cy="87.38" r="1.8" fill="#bb1039" stroke="#700a26" stroke-width="0.75"/>
<circle cx="375.55" cy="99.70" r="1.8" fill="#bb1039" stroke="#700a26" stroke-width="0.75"/>
<circle cx="377.23" cy="87.52" r="1.8" fill="#bb1039" stroke="#700a26" stroke-width="0.75"/>
<circle cx="378.13" cy="74.19" r="1.8" fill="#bb1039" stroke="#700a26" stroke-width="0.75"/>
<circle cx="388.30" cy="24.50" r="1.8" fill="#bb1039" stroke="#700a26" stroke-width="0.75"/>
<circle cx="395.20" cy="31.20" r="1.8" fill="#bb1039" stroke="#700a26" stroke-width="0.75"/>
<circle cx="377.50" cy="48.20" r="1.8" fill="#bb1039" stroke="#700a26" stroke-width="0.75"/>
<circle cx="389.80" cy="51.30" r="1.8" fill="#bb1039" stroke="#700a26" stroke-width="0.75"/>
<circle cx="381.00" cy="54.80" r="1.8" fill="#bb1039" stroke="#700a26" stroke-width="0.75"/>
<circle cx="383.30" cy="55.40" r="1.8" fill="#bb1039" stroke="#700a26" stroke-width="0.75"/>
<circle cx="382.90" cy="57.90" r="1.8" fill="#bb1039" stroke="#700a26" stroke-width="0.75"/>
<circle cx="389.80" cy="57.10" r="1.8" fill="#bb1039" stroke="#700a26" stroke-width="0.75"/>
<circle cx="375.20" cy="56.00" r="1.8" fill="#bb1039" stroke="#700a26" stroke-width="0.75"/>
<circle cx="374.60" cy="58.80" r="1.8" fill="#bb1039" stroke="#700a26" stroke-width="0.75"/>
<circle cx="373.40" cy="61.70" r="1.8" fill="#bb1039" stroke="#700a26" stroke-width="0.75"/>
<circle cx="372.30" cy="64.60" r="1.8" fill="#bb1039" stroke="#700a26" stroke-width="0.75"/>
<circle cx="372.90" cy="67.50" r="1.8" fill="#bb1039" stroke="#700a26" stroke-width="0.75"/>
<circle cx="382.10" cy="62.90" r="1.8" fill="#bb1039" stroke="#700a26" stroke-width="0.75"/>
<circle cx="395.40" cy="61.70" r="1.8" fill="#bb1039" stroke="#700a26" stroke-width="0.75"/>
<circle cx="396.50" cy="64.00" r="1.8" fill="#bb1039" stroke="#700a26" stroke-width="0.75"/>
<circle cx="378.00" cy="68.30" r="1.8" fill="#bb1039" stroke="#700a26" stroke-width="0.75"/>
<circle cx="380.40" cy="69.20" r="1.8" fill="#bb1039" stroke="#700a26" stroke-width="0.75"/>
<circle cx="385.00" cy="67.50" r="1.8" fill="#bb1039" stroke="#700a26" stroke-width="0.75"/>
<circle cx="386.70" cy="68.30" r="1.8" fill="#bb1039" stroke="#700a26" stroke-width="0.75"/>
<circle cx="382.70" cy="71.50" r="1.8" fill="#bb1039" stroke="#700a26" stroke-width="0.75"/>
<circle cx="389.00" cy="73.80" r="1.8" fill="#bb1039" stroke="#700a26" stroke-width="0.75"/>
<circle cx="388.50" cy="75.00" r="1.8" fill="#bb1039" stroke="#700a26" stroke-width="0.75"/>
<circle cx="388.80" cy="76.90" r="1.8" fill="#bb1039" stroke="#700a26" stroke-width="0.75"/>
<circle cx="383.10" cy="83.80" r="1.8" fill="#bb1039" stroke="#700a26" stroke-width="0.75"/>
<circle cx="384.20" cy="88.80" r="1.8" fill="#bb1039" stroke="#700a26" stroke-width="0.75"/>
<circle cx="386.00" cy="88.80" r="1.8" fill="#bb1039" stroke="#700a26" stroke-width="0.75"/>
<circle cx="378.70" cy="103.50" r="1.8" fill="#bb1039" stroke="#700a26" stroke-width="0.75"/>
<circle cx="401.30" cy="108.30" r="1.8" fill="#bb1039" stroke="#700a26" stroke-width="0.75"/>
<circle cx="422.90" cy="105.20" r="1.8" fill="#bb1039" stroke="#700a26" stroke-width="0.75"/>
<circle cx="402.30" cy="49.50" r="1.8" fill="#bb1039" stroke="#700a26" stroke-width="0.75"/>
<circle cx="382.30" cy="55.40" r="1.8" fill="#bb1039" stroke="#700a26" stroke-width="0.75"/>
<circle cx="378.80" cy="70.80" r="1.8" fill="#bb1039" stroke="#700a26" stroke-width="0.75"/>
<circle cx="383.50" cy="71.50" r="1.8" fill="#bb1039" stroke="#700a26" stroke-width="0.75"/>
<circle cx="379.00" cy="78.00" r="1.8" fill="#bb1039" stroke="#700a26" stroke-width="0.75"/>
<circle cx="381.00" cy="80.00" r="1.8" fill="#bb1039" stroke="#700a26" stroke-width="0.75"/>
<circle cx="378.00" cy="86.00" r="1.8" fill="#bb1039" stroke="#700a26" stroke-width="0.75"/>
<circle cx="380.00" cy="92.00" r="1.8" fill="#bb1039" stroke="#700a26" stroke-width="0.75"/>
<circle cx="376.00" cy="98.00" r="1.8" fill="#bb1039" stroke="#700a26" stroke-width="0.75"/>
<circle cx="374.20" cy="75.20" r="1.8" fill="#bb1039" stroke="#700a26" stroke-width="0.75"/>
<circle cx="379.70" cy="75.20" r="1.8" fill="#bb1039" stroke="#700a26" stroke-width="0.75"/>
<circle cx="388.90" cy="75.80" r="1.8" fill="#bb1039" stroke="#700a26" stroke-width="0.75"/>
<circle cx="383.40" cy="89.10" r="1.8" fill="#bb1039" stroke="#700a26" stroke-width="0.75"/>
<circle cx="385.80" cy="89.10" r="1.8" fill="#bb1039" stroke="#700a26" stroke-width="0.75"/>
<circle cx="374.00" cy="65.50" r="1.8" fill="#bb1039" stroke="#700a26" stroke-width="0.75"/>
<circle cx="371.80" cy="66.20" r="1.8" fill="#bb1039" stroke="#700a26" stroke-width="0.75"/>
<circle cx="372.20" cy="63.70" r="1.8" fill="#bb1039" stroke="#700a26" stroke-width="0.75"/>
<circle cx="379.50" cy="72.30" r="1.8" fill="#bb1039" stroke="#700a26" stroke-width="0.75"/>
<circle cx="383.20" cy="72.30" r="1.8" fill="#bb1039" stroke="#700a26" stroke-width="0.75"/>
<circle cx="374.00" cy="74.80" r="1.8" fill="#bb1039" stroke="#700a26" stroke-width="0.75"/>
<circle cx="389.40" cy="74.80" r="1.8" fill="#bb1039" stroke="#700a26" stroke-width="0.75"/>
<circle cx="342.88" cy="121.65" r="1.8" fill="#64a6e0" stroke="#4a86c0" stroke-width="0.75"/>
<circle cx="341.12" cy="129.98" r="1.8" fill="#64a6e0" stroke="#4a86c0" stroke-width="0.75"/>
<circle cx="338.98" cy="125.58" r="1.8" fill="#64a6e0" stroke="#4a86c0" stroke-width="0.75"/>
<circle cx="338.82" cy="126.99" r="1.8" fill="#64a6e0" stroke="#4a86c0" stroke-width="0.75"/>
<circle cx="342.77" cy="129.08" r="1.8" fill="#64a6e0" stroke="#4a86c0" stroke-width="0.75"/>
<circle cx="342.51" cy="131.53" r="1.8" fill="#64a6e0" stroke="#4a86c0" stroke-width="0.75"/>
<circle cx="336.69" cy="125.69" r="1.8" fill="#64a6e0" stroke="#4a86c0" stroke-width="0.75"/>
<circle cx="341.06" cy="124.85" r="1.8" fill="#64a6e0" stroke="#4a86c0" stroke-width="0.75"/>
<circle cx="339.26" cy="130.38" r="1.8" fill="#64a6e0" stroke="#4a86c0" stroke-width="0.75"/>
<circle cx="342.47" cy="126.42" r="1.8" fill="#64a6e0" stroke="#4a86c0" stroke-width="0.75"/>
<circle cx="344.81" cy="121.69" r="1.8" fill="#64a6e0" stroke="#4a86c0" stroke-width="0.75"/>
<circle cx="343.02" cy="126.14" r="1.8" fill="#64a6e0" stroke="#4a86c0" stroke-width="0.75"/>
<circle cx="339.28" cy="127.12" r="1.8" fill="#64a6e0" stroke="#4a86c0" stroke-width="0.75"/>
<circle cx="337.43" cy="130.72" r="1.8" fill="#64a6e0" stroke="#4a86c0" stroke-width="0.75"/>
<circle cx="338.18" cy="128.71" r="1.8" fill="#64a6e0" stroke="#4a86c0" stroke-width="0.75"/>
<circle cx="340.33" cy="121.35" r="1.8" fill="#64a6e0" stroke="#4a86c0" stroke-width="0.75"/>
<circle cx="314.20" cy="124.70" r="1.8" fill="#64a6e0" stroke="#4a86c0" stroke-width="0.75"/>
<circle cx="332.70" cy="128.20" r="1.8" fill="#64a6e0" stroke="#4a86c0" stroke-width="0.75"/>
<circle cx="348.90" cy="137.30" r="1.8" fill="#64a6e0" stroke="#4a86c0" stroke-width="0.75"/>
<circle cx="352.30" cy="140.30" r="1.8" fill="#64a6e0" stroke="#4a86c0" stroke-width="0.75"/>
<circle cx="277.80" cy="152.90" r="1.8" fill="#66a23c" stroke="#3f7a22" stroke-width="0.75"/>
<circle cx="331.30" cy="147.20" r="1.8" fill="#66a23c" stroke="#3f7a22" stroke-width="0.75"/>
<circle cx="330.60" cy="152.00" r="1.8" fill="#66a23c" stroke="#3f7a22" stroke-width="0.75"/>
<circle cx="325.70" cy="154.60" r="1.8" fill="#66a23c" stroke="#3f7a22" stroke-width="0.75"/>
<circle cx="340.00" cy="136.30" r="1.8" fill="#66a23c" stroke="#3f7a22" stroke-width="0.75"/>
<circle cx="343.00" cy="139.00" r="1.8" fill="#66a23c" stroke="#3f7a22" stroke-width="0.75"/>
<circle cx="341.00" cy="138.00" r="1.8" fill="#66a23c" stroke="#3f7a22" stroke-width="0.75"/>
<circle cx="401.80" cy="31.70" r="2.1" fill="#1a0a10" stroke="#000" stroke-width="0.5"/>
<circle cx="406.30" cy="31.20" r="2.1" fill="#1a0a10" stroke="#000" stroke-width="0.5"/>
<circle cx="398.00" cy="36.50" r="2.1" fill="#1a0a10" stroke="#000" stroke-width="0.5"/>
<circle cx="391.90" cy="61.50" r="2.1" fill="#1a0a10" stroke="#000" stroke-width="0.5"/>
<circle cx="392.30" cy="64.30" r="2.1" fill="#1a0a10" stroke="#000" stroke-width="0.5"/>
<circle cx="376.00" cy="79.50" r="2.1" fill="#1a0a10" stroke="#000" stroke-width="0.5"/>
<circle cx="375.60" cy="85.40" r="2.1" fill="#1a0a10" stroke="#000" stroke-width="0.5"/>
<polyline points="406.3,31.2 413.8,23.1 426.3,23.1" stroke="#1a1a1a" stroke-width="1.1" fill="none"/>
<polyline points="406.3,32.0 417.7,32.0" stroke="#1a1a1a" stroke-width="1.1" fill="none"/>
<polyline points="398,36.5 406.6,45.2 429.2,45.2" stroke="#1a1a1a" stroke-width="1.1" fill="none"/>
<polyline points="391.5,61.2 400.4,52.5 411.9,52.5" stroke="#1a1a1a" stroke-width="1.1" fill="none"/>
<polyline points="391.5,64.6 400,72.7 411.9,72.7" stroke="#1a1a1a" stroke-width="1.1" fill="none"/>
<polyline points="376,79.5 392,79.5" stroke="#1a1a1a" stroke-width="1.1" fill="none"/>
<polyline points="375.6,85.4 382.8,93.1 406.8,93.1" stroke="#1a1a1a" stroke-width="1.1" fill="none"/>
<text x="429.4" y="25.3" font-size="9" fill="#1a1a1a" stroke="#1a1a1a" stroke-width="0.18" textLength="56.0" lengthAdjust="spacingAndGlyphs">SYK Y525/Y526</text>
<text x="421.1" y="34.800000000000004" font-size="9" fill="#1a1a1a" stroke="#1a1a1a" stroke-width="0.18" textLength="35.9" lengthAdjust="spacingAndGlyphs">SYK Y348</text>
<text x="432.9" y="47.1" font-size="9" fill="#1a1a1a" stroke="#1a1a1a" stroke-width="0.18" textLength="35.599999999999994" lengthAdjust="spacingAndGlyphs">SYK Y352</text>
<text x="415" y="55.6" font-size="9" fill="#1a1a1a" stroke="#1a1a1a" stroke-width="0.18" textLength="35.8" lengthAdjust="spacingAndGlyphs">CBL Y630</text>
<text x="415" y="75.9" font-size="9" fill="#1a1a1a" stroke="#1a1a1a" stroke-width="0.18" textLength="35.8" lengthAdjust="spacingAndGlyphs">CBL Y656</text>
<text x="395.5" y="82.7" font-size="9" fill="#1a1a1a" stroke="#1a1a1a" stroke-width="0.18" textLength="45.3" lengthAdjust="spacingAndGlyphs">PLCG2 Y759</text>
<text x="410.2" y="95.8" font-size="9" fill="#1a1a1a" stroke="#1a1a1a" stroke-width="0.18" textLength="34.5" lengthAdjust="spacingAndGlyphs">BTK Y551</text>
<rect x="412.1" y="164.2" width="8.9" height="7.2" fill="#b5102e" stroke="none" stroke-width="1"/>
<rect x="412.1" y="177.8" width="8.9" height="7.2" fill="#2a4a8a" stroke="none" stroke-width="1"/>
<rect x="412.1" y="190.6" width="8.9" height="7.0" fill="#c8c8c8" stroke="none" stroke-width="1"/>
<text x="424.0" y="170.8" font-size="9" fill="#1a1a1a" stroke="#1a1a1a" stroke-width="0.18" textLength="16.2" lengthAdjust="spacingAndGlyphs">Two</text>
<text x="424.0" y="184.4" font-size="9" fill="#1a1a1a" stroke="#1a1a1a" stroke-width="0.18" textLength="16.1" lengthAdjust="spacingAndGlyphs">One</text>
<text x="424.0" y="197.2" font-size="9" fill="#1a1a1a" stroke="#1a1a1a" stroke-width="0.18" textLength="20.3" lengthAdjust="spacingAndGlyphs">None</text>
<rect x="122.2" y="295.8" width="44.7" height="182.3" fill="#fff" stroke="none" stroke-width="1"/>
<line x1="122.2" y1="302.7" x2="166.9" y2="302.7" stroke="#dcdcdc" stroke-width="0.8"/>
<line x1="122.2" y1="313.325" x2="166.9" y2="313.325" stroke="#dcdcdc" stroke-width="0.8"/>
<line x1="122.2" y1="323.95" x2="166.9" y2="323.95" stroke="#dcdcdc" stroke-width="0.8"/>
<line x1="122.2" y1="334.575" x2="166.9" y2="334.575" stroke="#dcdcdc" stroke-width="0.8"/>
<line x1="122.2" y1="345.2" x2="166.9" y2="345.2" stroke="#dcdcdc" stroke-width="0.8"/>
<line x1="122.2" y1="355.825" x2="166.9" y2="355.825" stroke="#dcdcdc" stroke-width="0.8"/>
<line x1="122.2" y1="366.45" x2="166.9" y2="366.45" stroke="#dcdcdc" stroke-width="0.8"/>
<line x1="122.2" y1="377.075" x2="166.9" y2="377.075" stroke="#dcdcdc" stroke-width="0.8"/>
<line x1="122.2" y1="387.7" x2="166.9" y2="387.7" stroke="#dcdcdc" stroke-width="0.8"/>
<line x1="122.2" y1="398.325" x2="166.9" y2="398.325" stroke="#dcdcdc" stroke-width="0.8"/>
<line x1="122.2" y1="408.95" x2="166.9" y2="408.95" stroke="#dcdcdc" stroke-width="0.8"/>
<line x1="122.2" y1="419.575" x2="166.9" y2="419.575" stroke="#dcdcdc" stroke-width="0.8"/>
<line x1="122.2" y1="430.2" x2="166.9" y2="430.2" stroke="#dcdcdc" stroke-width="0.8"/>
<line x1="122.2" y1="440.825" x2="166.9" y2="440.825" stroke="#dcdcdc" stroke-width="0.8"/>
<line x1="122.2" y1="451.45" x2="166.9" y2="451.45" stroke="#dcdcdc" stroke-width="0.8"/>
<line x1="122.2" y1="462.075" x2="166.9" y2="462.075" stroke="#dcdcdc" stroke-width="0.8"/>
<line x1="122.2" y1="472.7" x2="166.9" y2="472.7" stroke="#dcdcdc" stroke-width="0.8"/>
<line x1="134.6" y1="295.8" x2="134.6" y2="478.1" stroke="#dcdcdc" stroke-width="0.8"/>
<line x1="154.5" y1="295.8" x2="154.5" y2="478.1" stroke="#dcdcdc" stroke-width="0.8"/>
<circle cx="134.60" cy="302.70" r="2.75" fill="#cc1c2a" stroke="#9a1420" stroke-width="0.5"/>
<circle cx="154.50" cy="302.70" r="2.45" fill="#c41a2c" stroke="#801020" stroke-width="0.4"/>
<circle cx="134.60" cy="313.32" r="3.65" fill="#cc1c2a" stroke="#9a1420" stroke-width="0.5"/>
<circle cx="154.50" cy="313.32" r="3.2" fill="#c41a2c" stroke="#801020" stroke-width="0.4"/>
<circle cx="134.60" cy="323.95" r="2.6" fill="#cc1c2a" stroke="#9a1420" stroke-width="0.5"/>
<circle cx="154.50" cy="323.95" r="1.65" fill="#8c1632" stroke="#801020" stroke-width="0.4"/>
<circle cx="134.60" cy="334.57" r="3.5" fill="#cc1c2a" stroke="#9a1420" stroke-width="0.5"/>
<circle cx="154.50" cy="334.57" r="3.05" fill="#c41a2c" stroke="#801020" stroke-width="0.4"/>
<circle cx="134.60" cy="345.20" r="2.75" fill="#cc1c2a" stroke="#9a1420" stroke-width="0.5"/>
<circle cx="154.50" cy="345.20" r="2.45" fill="#b41830" stroke="#801020" stroke-width="0.4"/>
<circle cx="134.60" cy="355.82" r="3.05" fill="#cc1c2a" stroke="#9a1420" stroke-width="0.5"/>
<circle cx="154.50" cy="355.82" r="2.6" fill="#a3182f" stroke="#801020" stroke-width="0.4"/>
<circle cx="134.60" cy="366.45" r="2.75" fill="#cc1c2a" stroke="#9a1420" stroke-width="0.5"/>
<circle cx="154.50" cy="366.45" r="1.8" fill="#bf142e" stroke="#801020" stroke-width="0.4"/>
<circle cx="134.60" cy="377.07" r="2.75" fill="#cc1c2a" stroke="#9a1420" stroke-width="0.5"/>
<circle cx="134.60" cy="387.70" r="3.05" fill="#cc1c2a" stroke="#9a1420" stroke-width="0.5"/>
<circle cx="154.50" cy="387.70" r="2.7" fill="#c41a2c" stroke="#801020" stroke-width="0.4"/>
<circle cx="134.60" cy="398.32" r="2.85" fill="#cc1c2a" stroke="#9a1420" stroke-width="0.5"/>
<circle cx="134.60" cy="408.95" r="3.05" fill="#cc1c2a" stroke="#9a1420" stroke-width="0.5"/>
<circle cx="154.50" cy="408.95" r="2.55" fill="#a8182e" stroke="#801020" stroke-width="0.4"/>
<circle cx="134.60" cy="419.57" r="3.05" fill="#cc1c2a" stroke="#9a1420" stroke-width="0.5"/>
<circle cx="154.50" cy="419.57" r="2.55" fill="#a8182e" stroke="#801020" stroke-width="0.4"/>
<circle cx="134.60" cy="430.20" r="2.7" fill="#cc1c2a" stroke="#9a1420" stroke-width="0.5"/>
<circle cx="154.50" cy="430.20" r="1.7" fill="#a3107a" stroke="#801020" stroke-width="0.4"/>
<circle cx="134.60" cy="440.82" r="2.2" fill="#cc1c2a" stroke="#9a1420" stroke-width="0.5"/>
<circle cx="134.60" cy="451.45" r="3.4" fill="#cc1c2a" stroke="#9a1420" stroke-width="0.5"/>
<circle cx="154.50" cy="451.45" r="2.2" fill="#b4106a" stroke="#801020" stroke-width="0.4"/>
<circle cx="134.60" cy="462.07" r="2.55" fill="#cc1c2a" stroke="#9a1420" stroke-width="0.5"/>
<circle cx="154.50" cy="462.07" r="1.7" fill="#b8123e" stroke="#801020" stroke-width="0.4"/>
<circle cx="134.60" cy="472.70" r="3.55" fill="#cc1c2a" stroke="#9a1420" stroke-width="0.5"/>
<circle cx="154.50" cy="472.70" r="2.85" fill="#c41a2c" stroke="#801020" stroke-width="0.4"/>
<rect x="122.2" y="295.8" width="44.7" height="182.3" fill="none" stroke="#5a5a5a" stroke-width="1.3"/>
<line x1="119.6" y1="302.7" x2="122.2" y2="302.7" stroke="#222" stroke-width="1.1"/>
<text x="116.2" y="299.7" font-size="6.5" fill="#1a1a1a" stroke="#1a1a1a" stroke-width="0.18" text-anchor="end" style="stroke-width:0.07px">Antigen activates BCR leading to</text>
<text x="116.2" y="307.59999999999997" font-size="6.5" fill="#1a1a1a" stroke="#1a1a1a" stroke-width="0.18" text-anchor="end" style="stroke-width:0.07px">generation of second messengers</text>
<line x1="119.6" y1="313.325" x2="122.2" y2="313.325" stroke="#222" stroke-width="1.1"/>
<text x="116.2" y="315.425" font-size="6.5" fill="#1a1a1a" stroke="#1a1a1a" stroke-width="0.18" text-anchor="end" style="stroke-width:0.07px">Adaptive Immune System</text>
<line x1="119.6" y1="323.95" x2="122.2" y2="323.95" stroke="#222" stroke-width="1.1"/>
<text x="116.2" y="326.05" font-size="6.5" fill="#1a1a1a" stroke="#1a1a1a" stroke-width="0.18" text-anchor="end" style="stroke-width:0.07px">PECAM1 interactions</text>
<line x1="119.6" y1="334.575" x2="122.2" y2="334.575" stroke="#222" stroke-width="1.1"/>
<text x="116.2" y="336.675" font-size="6.5" fill="#1a1a1a" stroke="#1a1a1a" stroke-width="0.18" text-anchor="end" style="stroke-width:0.07px">Signaling by the BCR</text>
<line x1="119.6" y1="345.2" x2="122.2" y2="345.2" stroke="#222" stroke-width="1.1"/>
<text x="116.2" y="347.3" font-size="6.5" fill="#1a1a1a" stroke="#1a1a1a" stroke-width="0.18" text-anchor="end" style="stroke-width:0.07px">FCERI mediated Ca+2 mobilization</text>
<line x1="119.6" y1="355.825" x2="122.2" y2="355.825" stroke="#222" stroke-width="1.1"/>
<text x="116.2" y="357.925" font-size="6.5" fill="#1a1a1a" stroke="#1a1a1a" stroke-width="0.18" text-anchor="end" style="stroke-width:0.07px">FCGR dependent phagocytosis</text>
<line x1="119.6" y1="366.45" x2="122.2" y2="366.45" stroke="#222" stroke-width="1.1"/>
<text x="116.2" y="368.55" font-size="6.5" fill="#1a1a1a" stroke="#1a1a1a" stroke-width="0.18" text-anchor="end" style="stroke-width:0.07px">IL−2 signaling</text>
<line x1="119.6" y1="377.075" x2="122.2" y2="377.075" stroke="#222" stroke-width="1.1"/>
<text x="116.2" y="379.175" font-size="6.5" fill="#1a1a1a" stroke="#1a1a1a" stroke-width="0.18" text-anchor="end" style="stroke-width:0.07px">IL−3, 5 and GM−CSF signaling</text>
<line x1="119.6" y1="387.7" x2="122.2" y2="387.7" stroke="#222" stroke-width="1.1"/>
<text x="116.2" y="389.8" font-size="6.5" fill="#1a1a1a" stroke="#1a1a1a" stroke-width="0.18" text-anchor="end" style="stroke-width:0.07px">DAP12 signaling</text>
<line x1="119.6" y1="398.325" x2="122.2" y2="398.325" stroke="#222" stroke-width="1.1"/>
<text x="116.2" y="396.925" font-size="6.5" fill="#1a1a1a" stroke="#1a1a1a" stroke-width="0.18" text-anchor="end" style="stroke-width:0.07px">Cell surface interactions at</text>
<text x="116.2" y="404.925" font-size="6.5" fill="#1a1a1a" stroke="#1a1a1a" stroke-width="0.18" text-anchor="end" style="stroke-width:0.07px">the vascular wall</text>
<line x1="119.6" y1="408.95" x2="122.2" y2="408.95" stroke="#222" stroke-width="1.1"/>
<text x="116.2" y="412.15000000000003" font-size="6.5" fill="#1a1a1a" stroke="#1a1a1a" stroke-width="0.18" text-anchor="end" style="stroke-width:0.07px">FCERI signaling</text>
<line x1="119.6" y1="419.575" x2="122.2" y2="419.575" stroke="#222" stroke-width="1.1"/>
<text x="116.2" y="421.675" font-size="6.5" fill="#1a1a1a" stroke="#1a1a1a" stroke-width="0.18" text-anchor="end" style="stroke-width:0.07px">DAP12 interactions</text>
<line x1="119.6" y1="430.2" x2="122.2" y2="430.2" stroke="#222" stroke-width="1.1"/>
<text x="116.2" y="432.3" font-size="6.5" fill="#1a1a1a" stroke="#1a1a1a" stroke-width="0.18" text-anchor="end" style="stroke-width:0.07px">Signaling by Interleukins</text>
<line x1="119.6" y1="440.825" x2="122.2" y2="440.825" stroke="#222" stroke-width="1.1"/>
<text x="116.2" y="442.925" font-size="6.5" fill="#1a1a1a" stroke="#1a1a1a" stroke-width="0.18" text-anchor="end" style="stroke-width:0.07px">Interleukin receptor SHC signaling</text>
<line x1="119.6" y1="451.45" x2="122.2" y2="451.45" stroke="#222" stroke-width="1.1"/>
<text x="116.2" y="453.55" font-size="6.5" fill="#1a1a1a" stroke="#1a1a1a" stroke-width="0.18" text-anchor="end" style="stroke-width:0.07px">Cytokine Signaling in Immune system</text>
<line x1="119.6" y1="462.075" x2="122.2" y2="462.075" stroke="#222" stroke-width="1.1"/>
<text x="116.2" y="464.175" font-size="6.5" fill="#1a1a1a" stroke="#1a1a1a" stroke-width="0.18" text-anchor="end" style="stroke-width:0.07px">GPVI−mediated activation cascade</text>
<line x1="119.6" y1="472.7" x2="122.2" y2="472.7" stroke="#222" stroke-width="1.1"/>
<text x="116.2" y="474.8" font-size="6.5" fill="#1a1a1a" stroke="#1a1a1a" stroke-width="0.18" text-anchor="end" style="stroke-width:0.07px">Hemostasis</text>
<line x1="134.6" y1="478.1" x2="134.6" y2="481.6" stroke="#222" stroke-width="1.1"/>
<line x1="154.5" y1="478.1" x2="154.5" y2="481.6" stroke="#222" stroke-width="1.1"/>
<text transform="translate(137.29999999999998,485.6) rotate(-45)" font-size="6.4" fill="#1a1a1a" text-anchor="end">Both</text>
<text transform="translate(157.2,485.6) rotate(-45)" font-size="6.4" fill="#1a1a1a" text-anchor="end">BCR-only</text>
<text x="170.1" y="302.3" font-size="7" fill="#1a1a1a" stroke="#1a1a1a" stroke-width="0.18" textLength="33" lengthAdjust="spacingAndGlyphs">GeneRatio</text>
<circle cx="174.30" cy="308.60" r="2.0" fill="#000" stroke="none" stroke-width="0"/>
<text x="181.0" y="311.1" font-size="7" fill="#1a1a1a" stroke="#1a1a1a" stroke-width="0.18">0.2</text>
<circle cx="174.30" cy="317.40" r="2.55" fill="#000" stroke="none" stroke-width="0"/>
<text x="181.0" y="319.9" font-size="7" fill="#1a1a1a" stroke="#1a1a1a" stroke-width="0.18">0.4</text>
<circle cx="174.30" cy="326.00" r="3.05" fill="#000" stroke="none" stroke-width="0"/>
<text x="181.0" y="328.5" font-size="7" fill="#1a1a1a" stroke="#1a1a1a" stroke-width="0.18">0.6</text>
<text x="170.1" y="342.0" font-size="7" fill="#1a1a1a" stroke="#1a1a1a" stroke-width="0.18" textLength="24.5" lengthAdjust="spacingAndGlyphs">p.adjust</text>
<rect x="169.9" y="347.3" width="8.9" height="43.6" fill="url(#pcol)" stroke="none" stroke-width="1"/>
<line x1="169.9" y1="357.4" x2="171.6" y2="357.4" stroke="#fff" stroke-width="0.8"/>
<line x1="177.1" y1="357.4" x2="178.8" y2="357.4" stroke="#fff" stroke-width="0.8"/>
<text x="181.8" y="359.9" font-size="7" fill="#1a1a1a" stroke="#1a1a1a" stroke-width="0.18" textLength="19.8" lengthAdjust="spacingAndGlyphs">0.0075</text>
<line x1="169.9" y1="369.4" x2="171.6" y2="369.4" stroke="#fff" stroke-width="0.8"/>
<line x1="177.1" y1="369.4" x2="178.8" y2="369.4" stroke="#fff" stroke-width="0.8"/>
<text x="181.8" y="371.9" font-size="7" fill="#1a1a1a" stroke="#1a1a1a" stroke-width="0.18" textLength="19.8" lengthAdjust="spacingAndGlyphs">0.0050</text>
<line x1="169.9" y1="381.1" x2="171.6" y2="381.1" stroke="#fff" stroke-width="0.8"/>
<line x1="177.1" y1="381.1" x2="178.8" y2="381.1" stroke="#fff" stroke-width="0.8"/>
<text x="181.8" y="383.6" font-size="7" fill="#1a1a1a" stroke="#1a1a1a" stroke-width="0.18" textLength="19.8" lengthAdjust="spacingAndGlyphs">0.0025</text>
<text x="303.9" y="284.7" font-size="8.8" fill="#c6ae80" stroke="#c6ae80" stroke-width="0.18" textLength="21.4" lengthAdjust="spacingAndGlyphs">DG75</text>
<line x1="260.8" y1="289.5" x2="367.5" y2="289.5" stroke="#c49c58" stroke-width="1.5"/>
<text x="442.8" y="284.9" font-size="8.8" fill="#c6ae80" stroke="#c6ae80" stroke-width="0.18" textLength="21.4" lengthAdjust="spacingAndGlyphs">DG75</text>
<line x1="399.4" y1="289.3" x2="506.1" y2="289.3" stroke="#c49c58" stroke-width="1.5"/>
<text x="304.1" y="447.0" font-size="8.8" fill="#575f7e" stroke="#575f7e" stroke-width="0.18" textLength="21.0" lengthAdjust="spacingAndGlyphs">Daudi</text>
<line x1="259.6" y1="451.9" x2="367.5" y2="451.9" stroke="#555d7e" stroke-width="1.8"/>
<text x="444.6" y="447.0" font-size="8.8" fill="#575f7e" stroke="#575f7e" stroke-width="0.18" textLength="20.3" lengthAdjust="spacingAndGlyphs">Daudi</text>
<line x1="399.6" y1="451.7" x2="506.1" y2="451.7" stroke="#555d7e" stroke-width="1.8"/>
<line x1="260.3" y1="297.1" x2="260.3" y2="391.2" stroke="#111" stroke-width="1.3"/>
<line x1="256.8" y1="390.9" x2="260.3" y2="390.9" stroke="#111" stroke-width="1.2"/>
<text x="254.8" y="394.09999999999997" font-size="9" fill="#1a1a1a" stroke="#1a1a1a" stroke-width="0.18" text-anchor="end">0</text>
<line x1="256.8" y1="369.95" x2="260.3" y2="369.95" stroke="#111" stroke-width="1.2"/>
<text x="254.8" y="373.15" font-size="9" fill="#1a1a1a" stroke="#1a1a1a" stroke-width="0.18" text-anchor="end">0.2</text>
<line x1="256.8" y1="349.0" x2="260.3" y2="349.0" stroke="#111" stroke-width="1.2"/>
<text x="254.8" y="352.2" font-size="9" fill="#1a1a1a" stroke="#1a1a1a" stroke-width="0.18" text-anchor="end">0.4</text>
<line x1="256.8" y1="328.04999999999995" x2="260.3" y2="328.04999999999995" stroke="#111" stroke-width="1.2"/>
<text x="254.8" y="331.24999999999994" font-size="9" fill="#1a1a1a" stroke="#1a1a1a" stroke-width="0.18" text-anchor="end">0.6</text>
<line x1="256.8" y1="307.09999999999997" x2="260.3" y2="307.09999999999997" stroke="#111" stroke-width="1.2"/>
<text x="254.8" y="310.29999999999995" font-size="9" fill="#1a1a1a" stroke="#1a1a1a" stroke-width="0.18" text-anchor="end">0.8</text>
<line x1="258.7" y1="391.2" x2="369.2" y2="391.2" stroke="#111" stroke-width="1.3"/>
<line x1="260.5" y1="390.9" x2="260.5" y2="393.79999999999995" stroke="#111" stroke-width="1.2"/>
<text x="260.5" y="404.59999999999997" font-size="8.6" fill="#1a1a1a" stroke="#1a1a1a" stroke-width="0.18" text-anchor="middle">0</text>
<line x1="294.4" y1="390.9" x2="294.4" y2="393.79999999999995" stroke="#111" stroke-width="1.2"/>
<text x="294.4" y="404.59999999999997" font-size="8.6" fill="#1a1a1a" stroke="#1a1a1a" stroke-width="0.18" text-anchor="middle">1</text>
<line x1="328.4" y1="390.9" x2="328.4" y2="393.79999999999995" stroke="#111" stroke-width="1.2"/>
<text x="328.4" y="404.59999999999997" font-size="8.6" fill="#1a1a1a" stroke="#1a1a1a" stroke-width="0.18" text-anchor="middle">2</text>
<line x1="362.5" y1="390.9" x2="362.5" y2="393.79999999999995" stroke="#111" stroke-width="1.2"/>
<text x="362.5" y="404.59999999999997" font-size="8.6" fill="#1a1a1a" stroke="#1a1a1a" stroke-width="0.18" text-anchor="middle">3</text>
<text x="315.0" y="417.4" font-size="9.4" fill="#1a1a1a" stroke="#1a1a1a" stroke-width="0.18" text-anchor="middle" textLength="19.36" lengthAdjust="spacingAndGlyphs">Days</text>
<text transform="translate(237.0,344.4) rotate(-90)" font-size="9.6" fill="#1a1a1a" text-anchor="middle" textLength="77.81" lengthAdjust="spacingAndGlyphs">Relative cell number</text>
<polyline points="260.5,387.8 328.4,384.6 362.5,386.2" fill="none" stroke="#2e4f80" stroke-width="1.6"/>
<path d="M258.5,389.2575 L260.5,385.9575 L262.5,389.2575Z" fill="#2e4f80"/>
<line x1="328.4" y1="378.3299999999999" x2="328.4" y2="390.9" stroke="#2e4f80" stroke-width="1.1"/>
<line x1="326.79999999999995" y1="378.3299999999999" x2="330.0" y2="378.3299999999999" stroke="#2e4f80" stroke-width="1.1"/>
<line x1="326.79999999999995" y1="390.9" x2="330.0" y2="390.9" stroke="#2e4f80" stroke-width="1.1"/>
<path d="M326.4,386.11499999999995 L328.4,382.81499999999994 L330.4,386.11499999999995Z" fill="#2e4f80"/>
<line x1="362.5" y1="381.47249999999997" x2="362.5" y2="390.9" stroke="#2e4f80" stroke-width="1.1"/>
<line x1="360.9" y1="381.47249999999997" x2="364.1" y2="381.47249999999997" stroke="#2e4f80" stroke-width="1.1"/>
<line x1="360.9" y1="390.9" x2="364.1" y2="390.9" stroke="#2e4f80" stroke-width="1.1"/>
<path d="M360.5,387.68625 L362.5,384.38624999999996 L364.5,387.68625Z" fill="#2e4f80"/>
<polyline points="260.5,387.8 328.4,369.9 362.5,344.8" fill="none" stroke="#a40e30" stroke-width="1.6"/>
<rect x="258.7" y="385.9575" width="3.6" height="3.6" fill="#a40e30"/>
<line x1="328.4" y1="366.8075" x2="328.4" y2="373.0925" stroke="#a40e30" stroke-width="1.1"/>
<line x1="326.79999999999995" y1="366.8075" x2="330.0" y2="366.8075" stroke="#a40e30" stroke-width="1.1"/>
<line x1="326.79999999999995" y1="373.0925" x2="330.0" y2="373.0925" stroke="#a40e30" stroke-width="1.1"/>
<rect x="326.59999999999997" y="368.15" width="3.6" height="3.6" fill="#a40e30"/>
<line x1="362.5" y1="341.66749999999996" x2="362.5" y2="347.95249999999993" stroke="#a40e30" stroke-width="1.1"/>
<line x1="360.9" y1="341.66749999999996" x2="364.1" y2="341.66749999999996" stroke="#a40e30" stroke-width="1.1"/>
<line x1="360.9" y1="347.95249999999993" x2="364.1" y2="347.95249999999993" stroke="#a40e30" stroke-width="1.1"/>
<rect x="360.7" y="343.00999999999993" width="3.6" height="3.6" fill="#a40e30"/>
<polyline points="260.5,387.8 328.4,363.7 362.5,336.4" fill="none" stroke="#6cb04c" stroke-width="1.6"/>
<path d="M258.3,387.7575 L260.5,385.9575 L262.7,387.7575 L260.5,389.5575Z" fill="#6cb04c"/>
<line x1="328.4" y1="361.56999999999994" x2="328.4" y2="365.76" stroke="#6cb04c" stroke-width="1.1"/>
<line x1="326.79999999999995" y1="361.56999999999994" x2="330.0" y2="361.56999999999994" stroke="#6cb04c" stroke-width="1.1"/>
<line x1="326.79999999999995" y1="365.76" x2="330.0" y2="365.76" stroke="#6cb04c" stroke-width="1.1"/>
<path d="M326.2,363.66499999999996 L328.4,361.86499999999995 L330.59999999999997,363.66499999999996 L328.4,365.465Z" fill="#6cb04c"/>
<line x1="362.5" y1="331.19249999999994" x2="362.5" y2="341.66749999999996" stroke="#6cb04c" stroke-width="1.1"/>
<line x1="360.9" y1="331.19249999999994" x2="364.1" y2="331.19249999999994" stroke="#6cb04c" stroke-width="1.1"/>
<line x1="360.9" y1="341.66749999999996" x2="364.1" y2="341.66749999999996" stroke="#6cb04c" stroke-width="1.1"/>
<path d="M360.3,336.42999999999995 L362.5,334.62999999999994 L364.7,336.42999999999995 L362.5,338.22999999999996Z" fill="#6cb04c"/>
<polyline points="260.5,387.8 328.4,360.5 362.5,324.9" fill="none" stroke="#301650" stroke-width="1.6"/>
<path d="M258.7,385.9575 L262.3,389.5575 M258.7,389.5575 L262.3,385.9575" stroke="#301650" stroke-width="1.2"/>
<line x1="328.4" y1="358.95124999999996" x2="328.4" y2="362.09375" stroke="#301650" stroke-width="1.1"/>
<line x1="326.79999999999995" y1="358.95124999999996" x2="330.0" y2="358.95124999999996" stroke="#301650" stroke-width="1.1"/>
<line x1="326.79999999999995" y1="362.09375" x2="330.0" y2="362.09375" stroke="#301650" stroke-width="1.1"/>
<path d="M326.59999999999997,358.72249999999997 L330.2,362.3225 M326.59999999999997,362.3225 L330.2,358.72249999999997" stroke="#301650" stroke-width="1.2"/>
<line x1="362.5" y1="321.765" x2="362.5" y2="328.04999999999995" stroke="#301650" stroke-width="1.1"/>
<line x1="360.9" y1="321.765" x2="364.1" y2="321.765" stroke="#301650" stroke-width="1.1"/>
<line x1="360.9" y1="328.04999999999995" x2="364.1" y2="328.04999999999995" stroke="#301650" stroke-width="1.1"/>
<path d="M360.7,323.10749999999996 L364.3,326.7075 M360.7,326.7075 L364.3,323.10749999999996" stroke="#301650" stroke-width="1.2"/>
<line x1="265.4" y1="301.9" x2="277.1" y2="301.9" stroke="#6cb04c" stroke-width="1.6"/>
<path d="M269.0,301.9 L271.2,300.09999999999997 L273.4,301.9 L271.2,303.7Z" fill="#6cb04c"/>
<text x="280.0" y="304.4" font-size="8.2" fill="#1a1a1a" stroke="#1a1a1a" stroke-width="0.18" textLength="23.31" lengthAdjust="spacingAndGlyphs">DMSO</text>
<line x1="265.4" y1="313.8" x2="277.1" y2="313.8" stroke="#301650" stroke-width="1.6"/>
<path d="M269.4,312.0 L273.0,315.6 M269.4,315.6 L273.0,312.0" stroke="#301650" stroke-width="1.2"/>
<text x="280.0" y="316.09999999999997" font-size="8.2" fill="#1a1a1a" stroke="#1a1a1a" stroke-width="0.18" textLength="62.25" lengthAdjust="spacingAndGlyphs">DMSO (TEL-SYK)</text>
<line x1="265.4" y1="325.8" x2="277.1" y2="325.8" stroke="#2e4f80" stroke-width="1.6"/>
<path d="M269.2,327.3 L271.2,324.0 L273.2,327.3Z" fill="#2e4f80"/>
<text x="280.0" y="328.29999999999995" font-size="8.2" fill="#1a1a1a" stroke="#1a1a1a" stroke-width="0.18" textLength="58.88" lengthAdjust="spacingAndGlyphs">500 nM AT13387</text>
<line x1="265.4" y1="336.6" x2="277.1" y2="336.6" stroke="#a40e30" stroke-width="1.6"/>
<rect x="269.4" y="334.8" width="3.6" height="3.6" fill="#a40e30"/>
<text x="280.0" y="339.59999999999997" font-size="8.2" fill="#1a1a1a" stroke="#1a1a1a" stroke-width="0.18" textLength="58.88" lengthAdjust="spacingAndGlyphs">500 nM AT13387</text>
<text x="280.0" y="349.4" font-size="8.2" fill="#1a1a1a" stroke="#1a1a1a" stroke-width="0.18" textLength="37.42" lengthAdjust="spacingAndGlyphs">(TEL-SYK)</text>
<line x1="419.0" y1="319.7" x2="419.0" y2="391.40000000000003" stroke="#111" stroke-width="1.3"/>
<line x1="415.6" y1="323.4" x2="419" y2="323.4" stroke="#111" stroke-width="1.2"/>
<text x="415.0" y="326.59999999999997" font-size="9" fill="#1a1a1a" stroke="#1a1a1a" stroke-width="0.18" text-anchor="end">100</text>
<line x1="415.6" y1="357.25" x2="419" y2="357.25" stroke="#111" stroke-width="1.2"/>
<text x="415.0" y="360.45" font-size="9" fill="#1a1a1a" stroke="#1a1a1a" stroke-width="0.18" text-anchor="end">50</text>
<line x1="415.6" y1="391.1" x2="419" y2="391.1" stroke="#111" stroke-width="1.2"/>
<text x="415.0" y="394.3" font-size="9" fill="#1a1a1a" stroke="#1a1a1a" stroke-width="0.18" text-anchor="end">0</text>
<line x1="419.0" y1="391.40000000000003" x2="495.7" y2="391.40000000000003" stroke="#111" stroke-width="1.3"/>
<rect x="427.1" y="327.1" width="10.9" height="64.0" fill="#6aae44" stroke="none" stroke-width="1"/>
<line x1="432.55" y1="324.6" x2="432.55" y2="329.6" stroke="#111" stroke-width="1.1"/>
<line x1="430.35" y1="324.6" x2="434.75" y2="324.6" stroke="#111" stroke-width="1.2"/>
<line x1="430.35" y1="329.6" x2="434.75" y2="329.6" stroke="#111" stroke-width="1.2"/>
<rect x="443.6" y="329.0" width="10.9" height="62.10000000000002" fill="#46206a" stroke="none" stroke-width="1"/>
<line x1="449.05" y1="326.5" x2="449.05" y2="331.5" stroke="#111" stroke-width="1.1"/>
<line x1="446.85" y1="326.5" x2="451.25" y2="326.5" stroke="#111" stroke-width="1.2"/>
<line x1="446.85" y1="331.5" x2="451.25" y2="331.5" stroke="#111" stroke-width="1.2"/>
<rect x="459.9" y="374.4" width="10.9" height="16.700000000000045" fill="#335790" stroke="none" stroke-width="1"/>
<line x1="465.34999999999997" y1="368.79999999999995" x2="465.34999999999997" y2="380.9" stroke="#111" stroke-width="1.1"/>
<line x1="463.15" y1="368.79999999999995" x2="467.54999999999995" y2="368.79999999999995" stroke="#111" stroke-width="1.2"/>
<line x1="463.15" y1="380.9" x2="467.54999999999995" y2="380.9" stroke="#111" stroke-width="1.2"/>
<rect x="476.2" y="333.6" width="10.9" height="57.5" fill="#b3123a" stroke="none" stroke-width="1"/>
<line x1="481.65" y1="331.1" x2="481.65" y2="336.1" stroke="#111" stroke-width="1.1"/>
<line x1="479.45" y1="331.1" x2="483.84999999999997" y2="331.1" stroke="#111" stroke-width="1.2"/>
<line x1="479.45" y1="336.1" x2="483.84999999999997" y2="336.1" stroke="#111" stroke-width="1.2"/>
<text transform="translate(394.4,360) rotate(-90)" font-size="9.6" fill="#1a1a1a" text-anchor="middle" textLength="61.58" lengthAdjust="spacingAndGlyphs">Living cells (%)</text>
<polyline points="432.6,303.90000000000003 432.6,302.1 481.2,302.1 481.2,303.90000000000003" fill="none" stroke="#111" stroke-width="1.1"/>
<polyline points="432.6,317.8 432.6,316.0 465.0,316.0 465.0,317.8" fill="none" stroke="#111" stroke-width="1.1"/>
<text x="457.0" y="299.0" font-size="7.6" fill="#1a1a1a" stroke="#1a1a1a" stroke-width="0.18" text-anchor="middle" textLength="8.74" lengthAdjust="spacingAndGlyphs">ns</text>
<text x="436.9" y="313.1" font-size="7.4" fill="#1a1a1a" stroke="#1a1a1a" stroke-width="0.18" textLength="23.66" lengthAdjust="spacingAndGlyphs">p≤1e-4</text>
<line x1="260.3" y1="461.5" x2="260.3" y2="555.6" stroke="#111" stroke-width="1.3"/>
<line x1="256.8" y1="555.5" x2="260.3" y2="555.5" stroke="#111" stroke-width="1.2"/>
<text x="254.8" y="558.7" font-size="9" fill="#1a1a1a" stroke="#1a1a1a" stroke-width="0.18" text-anchor="end">0</text>
<line x1="256.8" y1="534.5" x2="260.3" y2="534.5" stroke="#111" stroke-width="1.2"/>
<text x="254.8" y="537.7" font-size="9" fill="#1a1a1a" stroke="#1a1a1a" stroke-width="0.18" text-anchor="end">0.2</text>
<line x1="256.8" y1="513.5" x2="260.3" y2="513.5" stroke="#111" stroke-width="1.2"/>
<text x="254.8" y="516.7" font-size="9" fill="#1a1a1a" stroke="#1a1a1a" stroke-width="0.18" text-anchor="end">0.4</text>
<line x1="256.8" y1="492.5" x2="260.3" y2="492.5" stroke="#111" stroke-width="1.2"/>
<text x="254.8" y="495.7" font-size="9" fill="#1a1a1a" stroke="#1a1a1a" stroke-width="0.18" text-anchor="end">0.6</text>
<line x1="256.8" y1="471.5" x2="260.3" y2="471.5" stroke="#111" stroke-width="1.2"/>
<text x="254.8" y="474.7" font-size="9" fill="#1a1a1a" stroke="#1a1a1a" stroke-width="0.18" text-anchor="end">0.8</text>
<line x1="258.7" y1="555.8" x2="369.2" y2="555.8" stroke="#111" stroke-width="1.3"/>
<line x1="260.5" y1="555.5" x2="260.5" y2="558.4" stroke="#111" stroke-width="1.2"/>
<text x="260.5" y="569.2" font-size="8.6" fill="#1a1a1a" stroke="#1a1a1a" stroke-width="0.18" text-anchor="middle">0</text>
<line x1="294.4" y1="555.5" x2="294.4" y2="558.4" stroke="#111" stroke-width="1.2"/>
<text x="294.4" y="569.2" font-size="8.6" fill="#1a1a1a" stroke="#1a1a1a" stroke-width="0.18" text-anchor="middle">1</text>
<line x1="328.4" y1="555.5" x2="328.4" y2="558.4" stroke="#111" stroke-width="1.2"/>
<text x="328.4" y="569.2" font-size="8.6" fill="#1a1a1a" stroke="#1a1a1a" stroke-width="0.18" text-anchor="middle">2</text>
<line x1="362.5" y1="555.5" x2="362.5" y2="558.4" stroke="#111" stroke-width="1.2"/>
<text x="362.5" y="569.2" font-size="8.6" fill="#1a1a1a" stroke="#1a1a1a" stroke-width="0.18" text-anchor="middle">3</text>
<text x="315.0" y="582.0" font-size="9.4" fill="#1a1a1a" stroke="#1a1a1a" stroke-width="0.18" text-anchor="middle" textLength="19.36" lengthAdjust="spacingAndGlyphs">Days</text>
<text transform="translate(237.0,508.79999999999995) rotate(-90)" font-size="9.6" fill="#1a1a1a" text-anchor="middle" textLength="77.81" lengthAdjust="spacingAndGlyphs">Relative cell number</text>
<polyline points="260.5,552.4 328.4,549.2 362.5,552.9" fill="none" stroke="#2e4f80" stroke-width="1.6"/>
<path d="M258.5,553.85 L260.5,550.5500000000001 L262.5,553.85Z" fill="#2e4f80"/>
<line x1="328.4" y1="543.95" x2="328.4" y2="554.45" stroke="#2e4f80" stroke-width="1.1"/>
<line x1="326.79999999999995" y1="543.95" x2="330.0" y2="543.95" stroke="#2e4f80" stroke-width="1.1"/>
<line x1="326.79999999999995" y1="554.45" x2="330.0" y2="554.45" stroke="#2e4f80" stroke-width="1.1"/>
<path d="M326.4,550.7 L328.4,547.4000000000001 L330.4,550.7Z" fill="#2e4f80"/>
<line x1="362.5" y1="550.775" x2="362.5" y2="554.975" stroke="#2e4f80" stroke-width="1.1"/>
<line x1="360.9" y1="550.775" x2="364.1" y2="550.775" stroke="#2e4f80" stroke-width="1.1"/>
<line x1="360.9" y1="554.975" x2="364.1" y2="554.975" stroke="#2e4f80" stroke-width="1.1"/>
<path d="M360.5,554.375 L362.5,551.075 L364.5,554.375Z" fill="#2e4f80"/>
<polyline points="260.5,552.4 328.4,534.5 362.5,506.7" fill="none" stroke="#a40e30" stroke-width="1.6"/>
<rect x="258.7" y="550.5500000000001" width="3.6" height="3.6" fill="#a40e30"/>
<line x1="328.4" y1="529.25" x2="328.4" y2="539.75" stroke="#a40e30" stroke-width="1.1"/>
<line x1="326.79999999999995" y1="529.25" x2="330.0" y2="529.25" stroke="#a40e30" stroke-width="1.1"/>
<line x1="326.79999999999995" y1="539.75" x2="330.0" y2="539.75" stroke="#a40e30" stroke-width="1.1"/>
<rect x="326.59999999999997" y="532.7" width="3.6" height="3.6" fill="#a40e30"/>
<line x1="362.5" y1="504.05" x2="362.5" y2="509.3" stroke="#a40e30" stroke-width="1.1"/>
<line x1="360.9" y1="504.05" x2="364.1" y2="504.05" stroke="#a40e30" stroke-width="1.1"/>
<line x1="360.9" y1="509.3" x2="364.1" y2="509.3" stroke="#a40e30" stroke-width="1.1"/>
<rect x="360.7" y="504.875" width="3.6" height="3.6" fill="#a40e30"/>
<polyline points="260.5,552.4 328.4,529.2 362.5,497.2" fill="none" stroke="#6cb04c" stroke-width="1.6"/>
<path d="M258.3,552.35 L260.5,550.5500000000001 L262.7,552.35 L260.5,554.15Z" fill="#6cb04c"/>
<line x1="328.4" y1="527.15" x2="328.4" y2="531.35" stroke="#6cb04c" stroke-width="1.1"/>
<line x1="326.79999999999995" y1="527.15" x2="330.0" y2="527.15" stroke="#6cb04c" stroke-width="1.1"/>
<line x1="326.79999999999995" y1="531.35" x2="330.0" y2="531.35" stroke="#6cb04c" stroke-width="1.1"/>
<path d="M326.2,529.25 L328.4,527.45 L330.59999999999997,529.25 L328.4,531.05Z" fill="#6cb04c"/>
<line x1="362.5" y1="494.07500000000005" x2="362.5" y2="500.375" stroke="#6cb04c" stroke-width="1.1"/>
<line x1="360.9" y1="494.07500000000005" x2="364.1" y2="494.07500000000005" stroke="#6cb04c" stroke-width="1.1"/>
<line x1="360.9" y1="500.375" x2="364.1" y2="500.375" stroke="#6cb04c" stroke-width="1.1"/>
<path d="M360.3,497.225 L362.5,495.425 L364.7,497.225 L362.5,499.02500000000003Z" fill="#6cb04c"/>
<polyline points="260.5,552.4 328.4,525.0 362.5,485.1" fill="none" stroke="#301650" stroke-width="1.6"/>
<path d="M258.7,550.5500000000001 L262.3,554.15 M258.7,554.15 L262.3,550.5500000000001" stroke="#301650" stroke-width="1.2"/>
<line x1="328.4" y1="520.8499999999999" x2="328.4" y2="529.25" stroke="#301650" stroke-width="1.1"/>
<line x1="326.79999999999995" y1="520.8499999999999" x2="330.0" y2="520.8499999999999" stroke="#301650" stroke-width="1.1"/>
<line x1="326.79999999999995" y1="529.25" x2="330.0" y2="529.25" stroke="#301650" stroke-width="1.1"/>
<path d="M326.59999999999997,523.25 L330.2,526.8499999999999 M326.59999999999997,526.8499999999999 L330.2,523.25" stroke="#301650" stroke-width="1.2"/>
<line x1="362.5" y1="478.325" x2="362.5" y2="491.97499999999997" stroke="#301650" stroke-width="1.1"/>
<line x1="360.9" y1="478.325" x2="364.1" y2="478.325" stroke="#301650" stroke-width="1.1"/>
<line x1="360.9" y1="491.97499999999997" x2="364.1" y2="491.97499999999997" stroke="#301650" stroke-width="1.1"/>
<path d="M360.7,483.34999999999997 L364.3,486.95 M360.7,486.95 L364.3,483.34999999999997" stroke="#301650" stroke-width="1.2"/>
<line x1="265.4" y1="462.4" x2="277.1" y2="462.4" stroke="#6cb04c" stroke-width="1.6"/>
<path d="M269.0,462.4 L271.2,460.59999999999997 L273.4,462.4 L271.2,464.2Z" fill="#6cb04c"/>
<text x="280.0" y="464.9" font-size="8.2" fill="#1a1a1a" stroke="#1a1a1a" stroke-width="0.18" textLength="23.31" lengthAdjust="spacingAndGlyphs">DMSO</text>
<line x1="265.4" y1="474.3" x2="277.1" y2="474.3" stroke="#301650" stroke-width="1.6"/>
<path d="M269.4,472.5 L273.0,476.1 M269.4,476.1 L273.0,472.5" stroke="#301650" stroke-width="1.2"/>
<text x="280.0" y="476.59999999999997" font-size="8.2" fill="#1a1a1a" stroke="#1a1a1a" stroke-width="0.18" textLength="62.25" lengthAdjust="spacingAndGlyphs">DMSO (TEL-SYK)</text>
<line x1="265.4" y1="486.3" x2="277.1" y2="486.3" stroke="#2e4f80" stroke-width="1.6"/>
<path d="M269.2,487.8 L271.2,484.5 L273.2,487.8Z" fill="#2e4f80"/>
<text x="280.0" y="488.79999999999995" font-size="8.2" fill="#1a1a1a" stroke="#1a1a1a" stroke-width="0.18" textLength="58.88" lengthAdjust="spacingAndGlyphs">500 nM AT13387</text>
<line x1="265.4" y1="497.1" x2="277.1" y2="497.1" stroke="#a40e30" stroke-width="1.6"/>
<rect x="269.4" y="495.3" width="3.6" height="3.6" fill="#a40e30"/>
<text x="280.0" y="500.09999999999997" font-size="8.2" fill="#1a1a1a" stroke="#1a1a1a" stroke-width="0.18" textLength="58.88" lengthAdjust="spacingAndGlyphs">500 nM AT13387</text>
<text x="280.0" y="509.9" font-size="8.2" fill="#1a1a1a" stroke="#1a1a1a" stroke-width="0.18" textLength="37.42" lengthAdjust="spacingAndGlyphs">(TEL-SYK)</text>
<line x1="419.0" y1="484.5" x2="419.0" y2="556.0999999999999" stroke="#111" stroke-width="1.3"/>
<line x1="415.6" y1="488.6" x2="419" y2="488.6" stroke="#111" stroke-width="1.2"/>
<text x="415.0" y="491.8" font-size="9" fill="#1a1a1a" stroke="#1a1a1a" stroke-width="0.18" text-anchor="end">100</text>
<line x1="415.6" y1="522.2" x2="419" y2="522.2" stroke="#111" stroke-width="1.2"/>
<text x="415.0" y="525.4000000000001" font-size="9" fill="#1a1a1a" stroke="#1a1a1a" stroke-width="0.18" text-anchor="end">50</text>
<line x1="415.6" y1="555.8" x2="419" y2="555.8" stroke="#111" stroke-width="1.2"/>
<text x="415.0" y="559.0" font-size="9" fill="#1a1a1a" stroke="#1a1a1a" stroke-width="0.18" text-anchor="end">0</text>
<line x1="419.0" y1="556.0999999999999" x2="495.7" y2="556.0999999999999" stroke="#111" stroke-width="1.3"/>
<rect x="427.1" y="492.6" width="10.9" height="63.19999999999993" fill="#6aae44" stroke="none" stroke-width="1"/>
<line x1="432.55" y1="490.40000000000003" x2="432.55" y2="494.8" stroke="#111" stroke-width="1.1"/>
<line x1="430.35" y1="490.40000000000003" x2="434.75" y2="490.40000000000003" stroke="#111" stroke-width="1.2"/>
<line x1="430.35" y1="494.8" x2="434.75" y2="494.8" stroke="#111" stroke-width="1.2"/>
<rect x="443.6" y="494.4" width="10.9" height="61.39999999999998" fill="#46206a" stroke="none" stroke-width="1"/>
<line x1="449.05" y1="492.4" x2="449.05" y2="496.4" stroke="#111" stroke-width="1.1"/>
<line x1="446.85" y1="492.4" x2="451.25" y2="492.4" stroke="#111" stroke-width="1.2"/>
<line x1="446.85" y1="496.4" x2="451.25" y2="496.4" stroke="#111" stroke-width="1.2"/>
<rect x="459.9" y="532.4" width="10.9" height="23.399999999999977" fill="#335790" stroke="none" stroke-width="1"/>
<line x1="465.34999999999997" y1="527.8" x2="465.34999999999997" y2="537.0" stroke="#111" stroke-width="1.1"/>
<line x1="463.15" y1="527.8" x2="467.54999999999995" y2="527.8" stroke="#111" stroke-width="1.2"/>
<line x1="463.15" y1="537.0" x2="467.54999999999995" y2="537.0" stroke="#111" stroke-width="1.2"/>
<rect x="476.2" y="499.6" width="10.9" height="56.19999999999993" fill="#b3123a" stroke="none" stroke-width="1"/>
<line x1="481.65" y1="497.40000000000003" x2="481.65" y2="501.8" stroke="#111" stroke-width="1.1"/>
<line x1="479.45" y1="497.40000000000003" x2="483.84999999999997" y2="497.40000000000003" stroke="#111" stroke-width="1.2"/>
<line x1="479.45" y1="501.8" x2="483.84999999999997" y2="501.8" stroke="#111" stroke-width="1.2"/>
<text transform="translate(394.4,520.3) rotate(-90)" font-size="9.6" fill="#1a1a1a" text-anchor="middle" textLength="61.58" lengthAdjust="spacingAndGlyphs">Living cells (%)</text>
<polyline points="432.6,467.1 432.6,465.3 481.2,465.3 481.2,467.1" fill="none" stroke="#111" stroke-width="1.1"/>
<polyline points="432.6,481.2 432.6,479.4 465.0,479.4 465.0,481.2" fill="none" stroke="#111" stroke-width="1.1"/>
<text x="454.7" y="461.9" font-size="7.6" fill="#1a1a1a" stroke="#1a1a1a" stroke-width="0.18" text-anchor="middle" textLength="8.74" lengthAdjust="spacingAndGlyphs">ns</text>
<text x="437.1" y="475.6" font-size="7.4" fill="#1a1a1a" stroke="#1a1a1a" stroke-width="0.18" textLength="23.66" lengthAdjust="spacingAndGlyphs">p≤1e-4</text>
</svg>
</body></html>
